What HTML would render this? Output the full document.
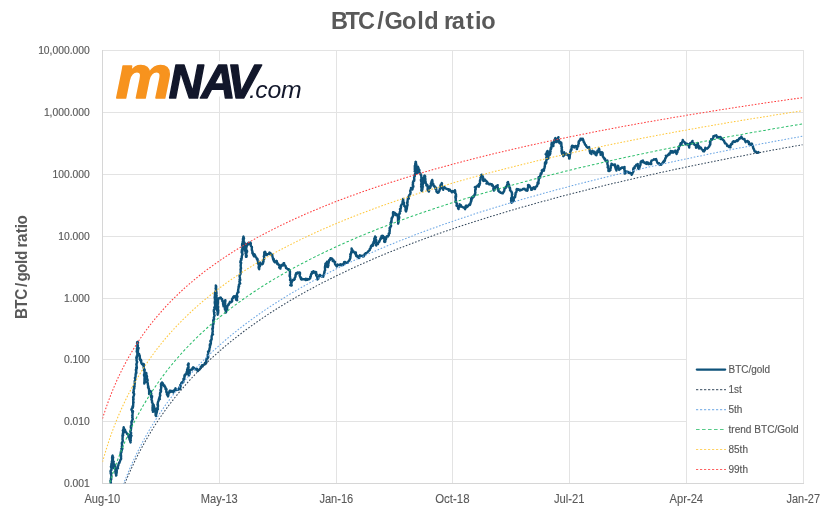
<!DOCTYPE html>
<html lang="en"><head><meta charset="utf-8"><title>BTC/Gold ratio</title>
<style>html,body{margin:0;padding:0;background:#fff}body{width:827px;height:517px;overflow:hidden}svg{display:block}text{font-family:"Liberation Sans",sans-serif}</style></head><body>
<svg width="827" height="517" viewBox="0 0 827 517">
<rect width="827" height="517" fill="#fff"/>
<g stroke="#E3E3E3" stroke-width="1" fill="none" shape-rendering="crispEdges">
<line x1="102" y1="50.5" x2="804" y2="50.5"/>
<line x1="102" y1="112.5" x2="804" y2="112.5"/>
<line x1="102" y1="174.5" x2="804" y2="174.5"/>
<line x1="102" y1="236.5" x2="804" y2="236.5"/>
<line x1="102" y1="298.5" x2="804" y2="298.5"/>
<line x1="102" y1="359.5" x2="804" y2="359.5"/>
<line x1="102" y1="421.5" x2="804" y2="421.5"/>
<line x1="219.5" y1="50" x2="219.5" y2="484"/>
<line x1="336.5" y1="50" x2="336.5" y2="484"/>
<line x1="452.5" y1="50" x2="452.5" y2="484"/>
<line x1="569.5" y1="50" x2="569.5" y2="484"/>
<line x1="686.5" y1="50" x2="686.5" y2="484"/>
<line x1="803.5" y1="50" x2="803.5" y2="484"/>
</g><g stroke="#D6D6D6" stroke-width="1" fill="none" shape-rendering="crispEdges">
<line x1="102.5" y1="50" x2="102.5" y2="484"/><line x1="102" y1="483.5" x2="804" y2="483.5"/>
</g>
<text transform="scale(0.9725,1)" x="340.45 355.28 368.1 387.86 395.38 413.48 428.99 436.25 446.25 456.63 464.65 479.11 488.32 494.96" y="28.7" font-size="24.2" font-weight="bold" fill="#595959">BTC/Gold ratio</text>
<text transform="translate(27.2,320) rotate(-90) scale(0.92,1)" x="0.99 12.27 22.14 35.94 41.81 51.09 60.74 65.12 75.12 78.71 84.74 94.21 99.76 103.7" y="0" font-size="16.5" font-weight="bold" fill="#595959">BTC/gold ratio</text>
<text x="89.7" y="54.0" font-size="10.3" fill="#595959" stroke="#595959" stroke-width="0.15" text-anchor="end">10,000.000</text>
<text x="89.7" y="116.0" font-size="10.3" fill="#595959" stroke="#595959" stroke-width="0.15" text-anchor="end">1,000.000</text>
<text x="89.7" y="178.0" font-size="10.3" fill="#595959" stroke="#595959" stroke-width="0.15" text-anchor="end">100.000</text>
<text x="89.7" y="240.0" font-size="10.3" fill="#595959" stroke="#595959" stroke-width="0.15" text-anchor="end">10.000</text>
<text x="89.7" y="302.0" font-size="10.3" fill="#595959" stroke="#595959" stroke-width="0.15" text-anchor="end">1.000</text>
<text x="89.7" y="363.0" font-size="10.3" fill="#595959" stroke="#595959" stroke-width="0.15" text-anchor="end">0.100</text>
<text x="89.7" y="425.0" font-size="10.3" fill="#595959" stroke="#595959" stroke-width="0.15" text-anchor="end">0.010</text>
<text x="89.7" y="487.0" font-size="10.3" fill="#595959" stroke="#595959" stroke-width="0.15" text-anchor="end">0.001</text>
<text x="84.4" y="503" font-size="12" fill="#595959" stroke="#595959" stroke-width="0.1" textLength="35.8" lengthAdjust="spacingAndGlyphs">Aug-10</text>
<text x="200.8" y="503" font-size="12" fill="#595959" stroke="#595959" stroke-width="0.1" textLength="37" lengthAdjust="spacingAndGlyphs">May-13</text>
<text x="319.4" y="503" font-size="12" fill="#595959" stroke="#595959" stroke-width="0.1" textLength="33.9" lengthAdjust="spacingAndGlyphs">Jan-16</text>
<text x="435.2" y="503" font-size="12" fill="#595959" stroke="#595959" stroke-width="0.1" textLength="34.3" lengthAdjust="spacingAndGlyphs">Oct-18</text>
<text x="554.0" y="503" font-size="12" fill="#595959" stroke="#595959" stroke-width="0.1" textLength="30.6" lengthAdjust="spacingAndGlyphs">Jul-21</text>
<text x="669.5" y="503" font-size="12" fill="#595959" stroke="#595959" stroke-width="0.1" textLength="33.6" lengthAdjust="spacingAndGlyphs">Apr-24</text>
<text x="786.5" y="503" font-size="12" fill="#595959" stroke="#595959" stroke-width="0.1" textLength="33.5" lengthAdjust="spacingAndGlyphs">Jan-27</text>
<rect x="114" y="61" width="188" height="35.5" fill="#fff"/>
<text font-style="italic" font-weight="bold" y="97.9" stroke-linejoin="round"><tspan font-size="61.5" fill="#F7931E" stroke="#F7931E" stroke-width="1.6" y="97.9" x="115.75" textLength="56.1" lengthAdjust="spacingAndGlyphs">m</tspan><tspan font-size="47.5" fill="#12172B" stroke="#12172B" stroke-width="1.4" y="97.6" x="168.65 201.35 226.68">NAV</tspan><tspan font-size="24.8" font-weight="normal" fill="#12172B" y="98.4" x="249.12 255.25 267.62 281.1">.com</tspan></text>
<defs><clipPath id="pc"><rect x="102.5" y="50.5" width="701.0" height="433.0"/></clipPath></defs>
<g clip-path="url(#pc)" fill="none">
<polyline stroke="#0E527A" stroke-width="2.4" stroke-linejoin="round" stroke-linecap="round" points="110.8,483.5 110.9,482.5 110.8,482.5 110.6,481.8 110.7,482.2 110.5,480.3 110.8,480.2 111.3,479.1 111.1,479.4 110.9,478.5 111.2,478.4 111.3,477.0 111.3,475.5 111.1,474.5 111.2,474.0 111.5,473.2 111.1,473.9 111.1,474.2 110.7,473.4 110.7,471.9 110.5,471.3 110.9,470.3 110.8,470.9 111.2,470.3 111.5,469.8 111.5,468.7 110.9,466.7 111.1,466.1 111.4,465.3 111.6,465.5 111.3,465.2 111.4,464.2 111.4,463.7 111.4,464.3 112.0,462.9 111.8,461.8 111.9,461.3 112.3,460.5 112.1,460.0 112.1,460.0 112.2,460.6 112.3,458.4 112.0,458.0 112.2,457.6 112.7,457.0 112.2,456.3 112.6,455.6 112.6,456.5 112.5,456.6 113.1,457.1 113.2,457.8 112.7,458.5 112.8,458.9 113.0,460.2 113.0,460.6 113.2,461.1 113.1,461.6 113.3,461.5 113.7,461.8 113.3,462.0 113.4,463.2 113.2,463.6 113.3,463.8 113.1,465.1 113.1,466.2 113.2,465.7 113.6,467.8 114.0,468.1 113.7,467.3 113.7,467.4 114.2,466.6 113.8,465.4 114.1,466.3 114.5,464.5 115.0,465.0 115.2,466.1 115.1,465.8 115.0,466.5 115.0,467.5 115.6,469.6 115.4,469.0 115.3,469.4 115.5,470.3 115.5,470.7 115.5,470.4 115.3,471.5 115.5,472.2 115.5,473.0 116.0,474.2 116.2,475.1 116.1,475.5 116.4,475.3 116.3,473.7 116.6,473.1 116.6,472.7 116.8,471.9 116.5,471.4 116.8,470.4 116.4,471.0 116.1,471.5 116.5,470.0 116.6,469.3 117.1,468.3 118.0,468.4 117.8,467.7 117.8,466.9 118.1,465.9 118.4,465.4 118.5,464.1 118.6,464.1 119.0,463.1 119.3,463.0 119.1,462.5 119.5,462.6 119.8,461.7 119.8,461.7 120.3,460.2 120.3,460.0 121.0,459.2 121.1,458.7 121.1,458.1 121.0,458.0 121.1,455.8 120.6,455.8 120.6,454.4 121.0,455.0 120.6,453.1 121.2,452.4 120.9,451.3 121.4,452.5 121.3,451.1 121.7,450.9 121.8,450.1 121.4,448.6 122.0,448.4 122.4,448.7 122.2,448.1 122.1,448.2 122.1,447.2 121.8,446.6 122.3,445.7 122.1,445.5 122.2,446.0 122.0,445.2 122.0,444.3 121.8,443.0 122.4,441.9 122.4,442.5 122.8,440.9 122.7,439.8 122.5,439.5 122.5,438.8 122.5,439.7 122.6,437.2 122.6,437.2 122.7,437.3 122.4,435.8 122.5,435.1 123.2,435.0 123.0,435.6 122.8,434.0 123.1,432.4 123.6,432.8 123.1,433.2 123.2,432.0 123.1,429.8 122.8,430.6 123.3,429.8 123.5,430.0 123.6,429.0 123.5,428.0 123.7,427.2 123.7,427.9 123.9,429.1 123.8,427.7 123.8,427.9 124.6,430.0 124.6,430.1 125.0,429.8 125.1,430.7 125.3,431.3 125.6,431.9 126.2,432.2 126.4,432.6 126.7,433.0 127.1,434.0 127.8,434.0 128.2,434.6 128.5,435.2 128.5,436.7 128.4,437.2 129.0,437.5 129.4,438.3 129.4,438.9 129.7,440.0 130.0,440.5 130.3,441.8 130.6,442.5 130.3,441.7 130.8,440.4 130.2,440.2 130.6,439.6 130.7,438.6 130.9,436.9 131.3,435.4 131.5,435.7 130.9,435.8 130.4,435.7 130.8,434.1 130.6,434.4 130.8,433.3 131.2,433.0 130.7,432.6 130.3,431.3 130.8,430.5 131.0,428.8 131.1,428.2 131.2,427.1 131.1,427.6 130.8,427.5 131.1,427.7 131.0,427.2 130.8,426.1 131.4,425.8 131.5,424.9 131.8,424.7 131.6,424.2 131.5,422.8 131.4,422.4 131.4,421.9 131.8,421.2 131.7,421.3 132.0,421.6 132.2,420.2 132.8,419.2 132.2,417.1 132.6,417.0 132.5,416.4 132.5,414.8 132.1,415.1 132.2,415.3 132.5,414.3 132.6,413.7 132.6,412.7 132.6,413.0 133.0,411.4 132.9,411.1 132.2,412.0 132.3,411.2 132.0,410.7 131.4,409.7 131.9,408.3 132.7,407.9 132.8,407.7 132.6,406.5 132.5,406.3 133.1,406.6 133.1,406.4 133.2,404.3 133.2,403.3 133.2,402.0 133.5,402.7 133.6,402.5 133.5,402.3 133.2,400.9 133.4,399.6 133.2,399.4 133.6,399.1 133.2,398.0 133.3,397.8 133.4,397.7 133.1,397.2 133.8,395.8 134.2,394.1 133.9,393.9 134.0,393.9 134.0,393.4 133.2,392.7 133.5,391.9 133.7,392.1 133.8,391.5 133.6,391.0 133.7,389.7 133.8,389.0 134.2,388.8 134.3,387.7 134.2,386.6 134.6,386.3 134.3,386.9 134.2,386.3 133.7,386.6 134.4,385.5 134.6,384.5 134.8,382.9 134.9,382.3 134.8,382.9 134.8,382.4 134.7,382.1 134.7,381.6 134.8,380.7 135.3,379.7 135.3,379.1 135.2,378.9 135.0,378.4 134.9,377.9 135.5,377.1 135.6,375.8 135.6,375.1 135.7,374.1 135.6,374.5 136.0,372.5 136.4,372.3 136.2,373.6 136.2,372.4 136.2,370.9 136.3,370.5 135.9,370.8 136.0,369.9 135.9,369.6 136.4,368.8 136.2,367.8 136.5,369.2 136.9,367.9 136.7,366.4 136.5,365.3 136.6,365.0 136.6,364.6 136.3,364.3 136.6,363.5 137.2,361.8 136.9,361.8 136.8,361.0 136.5,360.3 136.7,358.9 136.4,358.4 136.3,357.7 136.9,357.5 136.6,356.3 137.0,356.2 137.4,356.0 137.3,354.9 137.3,354.2 137.8,353.5 137.4,353.9 137.1,351.7 136.7,351.6 136.9,350.4 137.4,350.3 137.6,350.7 137.2,349.8 137.0,349.6 136.9,348.5 137.2,349.4 137.2,349.1 137.3,348.8 137.4,346.8 137.3,345.5 137.4,345.9 137.5,345.1 137.5,344.3 137.6,343.9 138.1,342.5 138.1,342.7 137.9,342.1 137.3,341.9 137.6,341.9 137.1,343.0 137.0,343.0 137.5,344.4 137.9,345.5 137.8,346.3 137.4,346.8 137.5,347.4 137.5,345.8 137.9,347.4 138.6,347.9 138.5,348.7 138.1,349.1 137.8,348.9 138.0,349.6 138.0,351.0 137.8,352.6 138.0,352.4 137.9,352.4 138.6,354.1 139.1,353.9 139.5,355.8 139.4,355.9 139.7,355.6 139.8,356.8 139.8,358.3 139.9,357.4 139.7,359.0 139.7,359.0 140.3,360.4 140.5,360.2 140.8,359.6 141.3,360.7 141.1,361.8 141.5,363.4 142.1,364.2 142.7,364.3 142.7,364.1 143.2,363.9 143.4,364.3 143.1,364.3 143.1,365.0 143.7,364.1 144.0,365.6 143.5,366.6 144.1,369.1 144.2,369.7 144.6,369.5 144.3,370.2 144.2,369.8 143.9,370.2 144.7,369.8 144.5,372.0 144.9,373.0 144.5,372.7 144.5,373.5 144.0,374.8 144.1,375.6 144.5,376.2 144.2,376.0 144.7,376.3 144.7,377.2 144.4,378.4 144.4,378.3 144.4,378.3 144.5,380.0 144.5,379.9 144.4,381.4 144.5,382.0 144.4,383.0 144.3,383.6 144.6,382.8 145.1,382.2 144.7,380.4 145.0,379.3 145.0,379.3 144.9,379.6 145.4,379.4 145.4,379.7 145.9,378.3 145.7,377.2 145.9,376.8 145.8,375.7 145.7,374.7 146.0,373.3 146.1,373.5 146.3,372.9 146.4,374.0 146.2,373.6 146.3,375.3 146.5,375.1 147.0,376.5 146.7,376.0 146.9,376.6 146.6,378.3 147.1,378.3 146.9,379.0 146.7,379.4 147.1,378.7 147.7,380.1 147.3,381.3 147.3,381.3 147.4,382.6 147.4,382.8 147.8,382.9 147.8,383.9 147.8,384.3 148.3,386.7 148.2,385.9 148.5,387.1 148.4,388.3 148.2,387.3 148.0,387.1 148.9,388.7 148.9,389.2 149.1,390.3 149.1,391.7 149.3,391.8 149.3,391.7 149.9,390.7 149.5,392.3 149.1,392.8 149.1,394.0 149.1,393.8 149.8,392.4 150.3,393.4 150.2,393.3 150.1,392.9 150.4,391.1 151.0,391.3 150.3,391.7 150.8,392.2 150.7,392.3 151.3,393.6 151.1,394.5 151.2,395.4 151.0,395.6 151.1,397.1 151.8,397.5 152.1,396.1 152.0,396.9 151.8,397.9 151.4,399.5 151.6,399.8 151.9,400.3 152.0,400.6 152.1,401.8 151.9,402.1 152.1,402.4 152.3,402.7 152.8,404.0 153.2,404.3 153.0,404.0 152.6,405.5 152.7,405.8 152.6,406.9 152.5,407.8 152.6,409.1 152.5,410.1 152.9,409.8 152.9,410.2 153.1,409.9 153.0,411.9 152.9,411.8 152.9,411.8 153.1,410.5 153.1,408.4 153.4,409.1 153.6,408.5 153.3,407.8 153.6,407.2 153.4,406.9 153.6,406.5 153.8,405.2 153.5,406.7 153.9,406.8 154.3,407.2 154.4,409.0 154.5,409.9 154.6,409.8 154.5,409.0 154.7,410.1 154.8,411.2 155.1,411.7 154.9,411.5 155.3,411.9 155.5,412.1 155.6,413.4 155.6,414.7 156.0,416.0 155.6,415.3 156.0,414.9 156.2,414.6 156.4,413.5 156.6,412.9 156.4,413.7 156.5,412.7 156.8,412.3 157.0,411.0 157.1,410.3 156.7,408.5 157.1,408.3 157.6,408.7 157.9,409.3 157.9,408.8 157.4,408.0 157.9,406.9 158.0,405.5 157.4,404.8 157.9,404.6 157.7,403.3 157.7,403.5 158.0,402.1 158.7,400.5 158.7,399.8 159.0,398.7 159.6,398.0 159.9,399.0 159.7,398.5 159.5,398.2 159.2,398.4 159.2,398.3 159.6,396.9 159.8,397.0 159.9,396.3 160.3,395.3 160.0,394.8 160.1,393.0 160.5,392.1 160.7,391.8 161.0,391.8 161.0,391.0 160.8,390.4 161.0,390.5 160.7,390.6 160.4,390.1 160.9,389.8 161.1,388.3 161.3,387.3 161.0,386.8 161.1,385.9 161.2,385.0 161.3,385.6 160.9,384.5 161.3,383.1 161.9,383.0 162.2,383.6 162.1,382.5 162.3,383.3 162.8,383.1 162.2,383.1 162.6,383.3 163.1,383.9 163.6,385.8 164.3,385.2 164.7,386.8 164.9,386.3 165.1,386.7 165.5,387.8 165.5,388.5 165.5,389.0 165.9,388.3 166.5,389.4 166.3,389.4 166.3,392.0 166.4,392.0 166.8,392.4 166.8,392.1 167.2,392.5 166.9,392.5 166.9,394.2 167.1,394.6 167.7,395.6 168.2,395.5 168.0,395.8 168.0,396.4 168.4,395.0 168.4,393.4 168.2,393.6 168.9,392.5 169.2,392.1 169.5,392.5 169.4,391.3 169.8,391.5 170.1,390.6 170.9,391.5 171.1,391.8 171.3,391.0 171.9,391.1 172.2,390.9 172.9,391.6 173.4,392.5 173.5,390.9 174.0,391.2 174.4,389.9 175.2,389.3 175.5,388.3 176.0,390.1 177.0,389.9 178.1,389.7 178.9,388.9 179.0,389.3 179.3,387.4 180.0,387.5 180.2,388.9 180.1,387.7 180.3,387.0 180.6,386.8 180.6,385.4 180.3,385.0 180.4,385.0 181.0,384.4 181.1,383.9 181.4,382.9 181.8,382.5 182.5,382.0 182.8,382.5 183.3,382.1 183.4,381.0 183.6,378.7 183.5,379.1 184.2,379.1 184.4,377.8 184.4,376.1 184.5,375.5 184.7,376.1 185.2,375.1 184.9,374.6 185.0,374.5 185.3,374.8 186.3,374.0 186.6,373.3 186.5,372.3 186.8,372.9 187.4,372.6 187.2,371.5 187.1,369.8 187.5,368.9 187.6,369.0 187.8,368.0 187.6,368.2 188.2,367.7 188.6,367.2 188.5,366.8 188.5,366.3 187.8,364.9 188.2,364.1 188.3,365.1 188.5,363.4 188.7,363.7 188.5,365.1 188.1,365.4 188.4,365.4 188.3,365.3 188.4,366.7 188.4,368.0 188.4,369.4 187.9,369.5 188.7,370.5 188.8,370.0 189.2,370.7 189.7,370.8 189.4,371.7 188.8,372.8 188.7,373.9 188.5,373.5 188.7,374.9 188.9,374.9 188.5,374.8 188.9,375.5 188.7,374.8 189.2,374.7 189.4,374.6 189.5,374.0 189.7,373.9 189.7,373.0 189.7,372.5 189.5,371.0 189.9,370.8 190.7,369.9 191.3,369.4 191.9,369.4 192.3,369.5 192.4,368.2 193.1,367.3 193.3,367.4 193.6,367.7 193.9,367.7 194.4,368.4 194.8,369.2 195.3,369.4 195.5,369.3 195.9,368.9 197.0,368.9 197.1,369.5 197.3,370.4 197.8,371.0 198.3,370.6 198.3,370.0 198.7,370.1 199.5,369.6 199.8,369.2 200.1,368.8 200.9,367.8 200.8,366.7 201.2,366.8 201.3,366.6 202.2,365.9 201.9,365.3 202.4,366.6 202.9,365.2 203.7,364.6 204.4,364.5 205.2,363.2 204.9,363.1 205.5,363.9 205.8,363.6 206.0,363.1 206.5,362.5 206.4,361.6 206.1,361.3 206.4,360.2 206.4,359.2 206.7,358.7 207.2,358.6 207.5,358.0 208.2,357.6 208.1,355.4 207.7,355.9 207.7,356.7 207.8,356.3 207.7,354.8 208.2,353.3 208.3,352.9 208.0,351.6 208.6,351.7 208.8,350.7 209.0,350.8 209.2,350.9 209.5,348.6 209.5,348.4 209.9,347.4 210.0,346.2 210.1,345.7 210.2,345.4 209.8,345.8 209.9,344.2 210.1,344.6 210.3,345.3 210.1,344.5 210.8,343.8 210.9,342.8 210.6,341.2 210.3,341.1 210.6,340.7 210.9,340.4 211.0,341.2 211.3,340.3 211.3,339.3 211.7,339.2 211.6,337.0 211.8,335.6 212.2,335.0 213.0,334.3 212.5,334.5 212.4,333.7 212.3,334.3 212.7,334.3 212.4,333.6 212.5,332.1 212.8,331.7 212.7,331.3 212.6,329.7 212.7,329.3 212.3,329.1 212.3,328.4 212.6,328.7 212.9,328.3 213.0,326.6 212.7,325.9 212.8,324.6 213.3,324.5 213.5,323.3 213.5,323.5 213.3,323.0 213.6,322.9 213.4,321.8 213.2,320.1 213.2,320.9 213.8,319.9 213.8,320.1 214.1,319.3 213.9,318.8 214.1,318.9 213.8,317.9 213.8,317.6 214.6,315.4 214.5,315.4 214.2,314.4 214.1,313.6 214.2,313.0 214.5,312.6 214.2,313.0 213.7,310.7 213.8,310.3 214.0,309.4 214.1,309.8 214.6,308.7 214.6,308.5 214.7,307.5 214.3,307.4 214.6,307.3 215.2,306.1 215.1,305.4 215.0,303.8 214.9,303.7 215.3,303.8 214.8,302.7 214.7,302.8 214.9,300.7 215.0,299.2 214.8,298.5 214.9,298.3 214.8,298.3 214.9,298.0 214.9,297.6 214.6,297.6 214.8,296.6 215.2,295.3 214.9,294.3 214.9,295.6 215.2,293.2 214.9,293.0 215.1,293.7 214.9,293.2 215.4,291.8 216.1,291.3 216.4,291.3 216.0,291.3 216.0,289.7 215.9,289.6 215.8,288.9 216.2,288.8 215.6,288.7 215.9,287.3 215.8,285.5 216.2,286.3 216.1,288.1 215.8,288.7 215.9,289.0 216.2,290.8 216.1,289.9 216.2,290.9 216.0,290.7 215.5,291.3 216.0,291.9 216.3,293.4 216.3,293.0 216.3,293.2 216.6,292.9 216.4,294.3 216.2,294.8 216.3,295.9 216.7,295.8 216.2,296.5 216.7,298.0 216.4,298.4 216.2,299.4 216.7,300.1 216.7,300.3 216.3,299.8 216.4,301.4 216.8,302.1 217.1,303.3 216.9,302.3 217.0,302.2 217.1,302.0 216.8,303.0 217.0,305.0 216.9,306.2 216.8,306.7 216.7,307.4 216.9,308.5 217.0,308.7 216.8,309.5 216.8,310.0 217.3,309.1 217.3,309.9 217.5,311.8 217.7,312.0 217.7,312.6 218.2,312.8 217.6,313.3 217.7,314.8 217.5,313.9 218.0,312.7 218.3,310.3 217.4,310.3 217.2,309.1 217.5,308.3 217.8,309.3 217.9,309.5 217.8,307.8 217.9,308.2 218.0,308.0 217.9,306.9 218.2,306.9 217.4,305.2 217.8,304.2 217.6,303.2 218.0,302.6 217.9,303.2 217.7,302.0 218.0,301.1 217.8,300.4 217.7,300.6 217.4,300.0 217.8,300.3 218.3,299.2 219.1,298.2 219.4,297.9 220.2,297.9 220.6,297.4 221.0,298.0 221.7,299.5 222.2,299.3 222.2,299.8 222.3,301.1 222.5,300.9 222.7,300.8 222.5,300.9 223.0,302.1 223.0,303.2 223.3,303.6 223.1,304.2 223.4,305.6 223.6,306.4 223.6,305.3 224.4,304.8 224.5,304.4 225.0,304.3 225.2,303.4 224.9,302.4 224.9,301.7 225.2,300.2 225.4,300.2 225.4,300.6 225.3,301.8 224.9,301.9 225.1,302.5 224.6,302.8 225.1,303.1 225.1,304.7 225.2,305.1 225.3,306.2 225.6,306.1 225.3,307.1 225.0,306.7 225.1,307.5 224.8,308.3 225.0,309.6 225.9,310.4 225.7,310.9 226.0,312.1 225.7,312.6 226.0,312.2 226.1,311.9 226.3,310.9 226.6,310.0 227.1,309.6 227.1,308.6 227.1,308.3 226.8,308.3 227.1,308.0 227.3,306.8 227.9,305.3 228.1,305.0 228.8,304.6 228.3,304.9 228.7,303.9 229.3,303.3 229.5,303.3 229.7,302.3 230.0,301.7 230.1,302.4 230.6,302.4 231.8,301.7 232.2,300.9 232.0,299.3 232.0,299.2 232.3,298.6 233.0,298.2 233.1,297.2 233.3,296.8 234.0,296.2 234.7,296.4 235.1,297.3 235.4,297.1 235.2,296.3 235.4,296.5 235.1,296.5 235.8,297.2 235.8,298.7 236.2,299.8 236.9,300.0 237.2,300.2 236.7,299.1 237.0,297.8 237.4,296.8 237.1,296.4 236.9,297.3 237.0,295.8 236.7,296.4 237.5,296.5 236.9,295.4 236.9,294.6 237.2,293.5 237.4,293.0 237.7,292.9 238.0,292.2 238.1,292.1 238.5,292.0 237.9,291.1 238.2,290.4 238.2,289.4 238.4,288.9 238.6,287.4 238.5,287.2 238.5,286.8 238.9,285.6 239.1,286.5 238.9,284.9 239.6,283.7 240.2,283.5 239.4,281.7 239.5,281.2 240.3,280.1 240.2,279.6 240.1,279.6 239.9,279.6 239.7,279.9 239.7,279.7 239.6,279.5 240.0,278.8 239.9,277.5 239.8,277.4 239.6,276.1 239.8,275.1 239.7,275.5 239.9,275.1 240.4,274.3 240.5,273.8 240.6,273.4 240.7,271.5 240.7,270.9 240.6,269.7 240.6,269.5 240.8,268.6 240.5,269.2 241.0,268.7 240.9,267.4 240.7,266.8 240.7,265.5 240.6,265.3 240.8,265.2 240.7,264.7 241.2,262.8 240.9,262.5 240.4,262.5 240.5,262.2 240.3,262.3 240.7,260.6 241.2,260.5 241.5,259.4 241.1,259.1 241.0,258.8 241.7,258.5 241.8,257.3 241.7,256.9 242.0,255.5 242.6,254.2 242.6,254.5 242.3,254.1 242.2,252.5 242.3,251.9 242.0,251.8 241.7,252.5 241.9,252.4 241.7,251.9 241.9,249.7 242.1,249.2 242.8,249.1 242.4,248.7 242.4,248.2 242.4,247.3 242.6,247.8 242.9,247.7 242.6,246.3 242.4,244.7 242.1,245.5 242.1,244.0 242.6,244.0 242.8,244.2 242.6,242.3 242.8,241.7 243.0,240.7 243.3,240.4 243.2,239.9 243.3,240.4 242.9,239.6 243.0,238.4 243.8,238.3 243.3,237.0 243.5,236.6 243.7,238.6 243.7,238.1 243.6,238.2 243.8,238.9 243.9,238.8 244.0,238.3 243.5,240.3 243.7,240.6 243.7,241.1 243.8,241.8 244.0,242.1 244.3,242.4 244.6,243.6 244.3,246.0 244.6,246.7 244.9,247.3 245.0,246.4 245.2,247.1 244.9,247.0 244.7,248.5 244.9,248.9 244.4,249.6 244.5,250.2 244.4,250.5 244.4,249.3 244.1,249.5 244.1,248.2 244.4,247.3 244.9,247.1 245.2,246.5 245.2,246.5 245.1,246.7 244.9,246.1 245.2,245.5 245.2,244.8 245.4,244.7 245.9,243.9 245.7,245.0 245.2,245.1 245.0,245.2 244.8,246.3 244.7,247.0 245.4,248.2 245.5,249.5 245.1,248.4 245.5,249.4 245.9,251.5 245.7,252.3 245.5,253.4 245.5,253.5 245.7,252.7 245.9,252.7 246.2,254.2 246.4,255.4 246.5,255.3 246.7,255.8 246.5,256.7 245.9,255.9 245.9,255.5 246.1,256.3 246.0,256.9 246.4,255.5 246.2,255.7 246.0,254.1 246.6,252.7 246.7,250.7 246.7,251.3 246.9,250.6 247.1,251.7 247.0,250.8 246.2,249.9 246.3,247.9 246.4,248.5 246.3,247.5 246.6,246.8 247.1,244.8 247.0,245.4 247.0,245.5 247.9,244.4 247.8,244.0 247.7,243.7 248.1,243.6 248.5,242.8 248.7,244.1 249.5,243.8 249.8,243.5 250.0,243.5 250.4,242.5 250.8,243.3 250.7,245.2 251.0,246.1 251.0,246.1 251.9,247.2 251.5,246.5 251.9,247.4 251.8,248.8 251.8,249.9 252.0,249.9 252.3,251.2 252.6,252.8 252.6,252.6 252.4,253.4 252.3,252.6 252.6,252.2 252.9,253.8 253.3,254.6 253.4,255.4 253.6,255.7 254.2,255.5 254.3,255.7 254.1,256.3 254.3,255.2 254.4,254.2 255.3,255.8 255.3,256.6 256.1,257.3 256.4,257.6 257.0,259.4 257.3,259.3 257.2,259.7 257.3,258.7 257.4,259.1 257.6,259.5 257.7,260.4 257.9,261.4 258.6,261.5 258.1,263.4 258.3,263.0 258.2,263.4 258.4,264.3 258.8,264.1 258.8,265.4 259.1,266.5 258.6,266.8 259.1,268.6 258.9,268.7 259.2,269.2 259.3,268.9 258.6,267.7 258.7,267.2 259.1,266.8 259.8,266.3 259.9,266.5 259.9,264.4 259.5,263.7 260.1,262.6 260.7,263.7 260.9,263.7 261.2,263.9 261.3,263.7 262.0,264.4 262.9,263.7 263.0,263.4 263.2,261.5 263.3,262.2 262.9,261.9 263.5,261.6 263.1,261.6 263.3,260.5 263.6,259.6 264.0,259.4 264.1,258.9 264.2,257.9 264.1,257.2 263.8,256.3 264.2,256.2 264.2,256.1 264.1,255.2 264.1,255.6 264.4,253.5 264.2,252.8 264.3,253.4 264.3,252.3 265.1,251.7 265.7,253.5 266.6,254.2 266.2,253.8 266.4,255.0 267.0,254.8 267.4,254.1 267.8,254.1 268.9,253.9 269.1,253.2 269.3,253.2 269.5,252.6 270.3,253.0 270.8,253.8 270.8,254.9 271.0,255.0 271.7,254.8 272.3,254.8 272.3,255.7 272.8,257.7 273.2,258.6 272.9,258.4 273.2,259.5 273.8,259.0 273.9,260.4 273.6,260.5 274.1,261.5 274.8,262.3 275.5,262.4 275.1,262.4 276.3,261.1 276.2,260.8 276.8,261.1 277.3,264.1 277.6,263.9 277.6,263.7 277.4,263.0 277.8,264.2 277.8,263.4 277.3,263.6 278.7,264.8 279.0,264.7 279.6,266.6 279.2,267.7 279.8,267.5 280.3,267.6 280.6,267.4 280.5,267.5 280.2,268.5 280.4,268.6 280.1,268.3 280.1,267.8 280.7,266.8 280.9,266.6 281.4,265.0 281.8,264.9 282.7,265.5 283.1,265.5 283.2,264.2 283.6,263.3 283.4,263.6 283.6,264.2 284.1,263.1 283.9,263.3 284.2,264.1 284.2,265.4 284.7,265.1 285.6,266.1 285.6,266.2 286.1,268.1 286.3,268.2 286.5,268.1 286.6,268.1 287.7,269.2 288.6,269.8 288.8,269.2 288.8,269.9 289.2,269.6 289.1,270.0 289.5,270.2 289.6,270.4 289.8,271.3 290.0,271.8 289.9,273.3 290.0,274.6 289.6,275.0 289.7,274.9 289.6,276.3 289.8,275.6 289.8,275.4 290.1,277.3 290.4,278.6 290.0,279.9 290.0,280.1 290.0,279.8 290.5,280.3 291.0,281.6 291.2,281.7 290.9,282.1 291.3,282.1 290.7,282.5 291.2,284.2 290.9,285.3 290.2,285.1 291.3,285.3 291.7,285.4 291.3,285.6 291.4,284.3 291.4,284.0 291.5,282.3 291.2,281.6 291.3,282.1 291.7,282.4 292.0,281.0 292.4,280.2 292.5,280.6 293.6,280.0 293.6,279.5 294.1,279.8 293.8,279.5 293.9,279.6 294.7,279.2 294.7,277.9 295.2,277.2 295.5,276.6 295.5,275.2 295.7,274.4 295.9,274.9 296.1,273.3 296.7,273.9 297.1,273.5 297.1,272.8 297.1,272.6 297.7,272.5 298.3,273.0 299.2,272.4 300.0,272.7 300.0,273.1 299.9,274.9 299.8,275.7 299.6,275.1 299.6,275.4 299.6,275.6 299.9,276.3 300.3,277.1 301.0,279.1 301.2,277.8 301.5,279.1 301.6,279.6 302.8,279.1 303.5,279.2 304.4,279.1 305.0,279.5 305.7,280.1 305.9,278.7 306.5,279.7 307.7,279.1 307.5,279.8 308.2,279.3 308.9,279.4 309.2,278.9 309.7,278.8 310.3,278.0 310.2,276.6 310.6,276.5 310.6,276.3 310.7,276.9 311.0,274.4 311.3,273.8 311.7,274.0 312.1,272.5 311.9,272.0 312.8,272.9 313.2,272.9 313.4,271.1 313.3,271.3 313.7,271.9 314.4,272.0 314.9,272.0 314.7,272.2 315.2,271.9 316.2,272.2 315.5,273.4 316.0,273.9 316.2,275.6 316.2,275.4 316.8,274.2 316.4,275.0 316.7,276.2 317.3,277.1 317.3,277.7 317.3,277.7 317.5,279.5 317.6,278.5 318.4,278.5 318.3,277.6 318.9,276.3 318.8,277.0 319.5,274.9 320.1,274.9 319.9,275.7 320.8,275.7 321.3,276.4 321.9,276.0 323.1,275.5 323.3,276.7 323.3,275.6 324.0,274.7 324.1,273.3 324.6,272.4 324.6,272.6 324.3,272.4 324.4,271.7 324.9,270.5 325.1,270.5 325.0,268.7 325.0,268.3 325.0,267.9 324.9,267.0 325.6,266.9 325.5,266.0 325.2,265.2 325.2,266.1 325.6,265.8 325.8,265.6 325.8,264.6 325.7,264.3 325.8,263.8 325.5,263.5 325.4,263.8 326.0,263.2 326.1,263.5 326.5,263.6 327.0,261.7 327.2,262.2 327.1,263.6 327.8,265.1 327.8,265.5 327.6,266.9 327.9,267.1 328.1,265.8 327.9,266.0 328.2,266.1 328.4,265.2 328.0,263.4 328.4,263.7 328.7,262.6 328.9,261.6 328.7,261.1 329.1,260.1 329.5,260.3 329.8,260.1 329.7,259.9 330.3,259.2 330.4,258.2 331.0,258.3 332.1,259.0 332.4,258.8 332.7,261.0 333.4,260.6 333.6,260.2 333.9,261.4 334.4,261.9 335.1,262.0 334.6,262.1 334.8,262.9 335.0,263.8 335.2,264.5 335.5,264.5 335.8,265.1 336.5,265.9 336.8,266.5 337.4,264.5 338.0,264.9 338.2,265.1 338.7,264.9 339.5,264.9 339.8,265.2 339.8,265.0 340.1,264.3 340.5,264.2 341.3,265.2 342.1,264.3 342.4,264.4 342.9,264.9 343.8,264.3 344.0,262.3 344.6,262.5 344.8,262.0 345.2,261.9 345.8,262.7 347.2,262.8 347.5,262.4 347.8,262.7 347.9,262.2 348.3,261.5 348.8,260.9 349.1,260.4 349.9,259.4 350.0,258.6 350.4,258.1 350.4,257.0 350.6,255.9 350.2,256.7 350.4,255.9 350.6,255.4 350.7,254.7 350.3,254.2 351.0,253.7 351.1,253.1 351.2,252.0 351.3,252.2 351.5,251.1 351.8,251.3 351.6,249.3 351.6,248.4 352.0,249.3 352.3,249.8 352.4,250.0 352.5,251.0 352.5,251.0 352.8,251.9 353.4,251.2 353.2,252.1 354.2,252.1 354.9,252.8 355.2,253.3 355.9,252.4 355.6,254.0 355.4,253.9 355.4,253.1 355.8,252.6 356.0,255.1 356.2,255.8 356.6,256.0 356.4,256.2 357.4,255.8 357.7,257.1 358.4,257.0 359.1,258.1 359.5,257.3 359.9,255.3 360.5,256.2 361.3,255.8 362.2,255.6 363.0,256.6 363.3,255.9 363.7,256.3 364.1,255.6 364.7,254.4 364.5,254.3 365.5,253.3 365.7,253.7 365.9,253.6 366.5,252.8 367.3,252.5 367.7,252.1 368.3,251.2 368.6,251.2 369.2,250.3 369.7,250.1 369.8,248.8 370.4,248.5 370.6,248.3 370.8,247.2 370.8,246.7 371.1,246.0 371.7,246.3 371.7,245.3 372.3,245.3 372.8,245.7 373.2,245.1 372.9,243.3 373.4,243.1 373.9,243.3 373.9,242.3 374.1,242.4 373.6,241.9 374.2,241.2 374.2,240.1 374.7,239.1 374.3,238.4 374.8,238.0 374.9,237.7 375.3,237.3 375.1,236.4 375.1,236.6 375.9,237.4 375.5,236.9 375.3,237.3 375.4,237.8 375.2,238.7 375.8,239.5 376.3,240.2 375.9,240.4 375.4,241.8 376.0,242.6 376.3,242.1 376.5,243.1 376.7,243.2 376.2,245.3 376.2,245.5 376.0,245.1 376.0,244.7 376.8,244.1 376.9,243.6 377.9,244.1 378.0,243.4 377.9,243.1 378.4,242.9 379.1,241.2 379.3,241.8 379.1,241.2 379.6,240.9 380.3,239.3 380.3,239.3 380.3,238.8 381.0,237.6 381.3,238.6 381.2,237.8 381.4,236.6 381.6,236.0 382.2,235.9 382.5,235.7 383.1,236.1 383.4,237.0 383.0,237.9 383.5,236.9 383.9,237.0 384.2,237.1 384.6,238.0 384.4,239.6 384.3,240.3 384.8,239.9 384.6,240.3 384.2,241.7 385.0,241.7 385.0,242.0 385.3,241.7 385.1,239.9 385.2,240.3 385.3,240.0 385.7,239.7 386.2,238.4 385.8,237.4 386.6,236.8 386.5,236.7 386.7,236.4 387.5,236.0 387.9,236.6 387.8,236.5 388.9,235.0 388.7,233.8 388.9,234.3 389.1,233.1 389.6,233.3 389.4,233.3 389.7,231.6 389.5,230.6 389.9,230.0 389.6,228.8 389.7,227.7 390.4,227.2 390.4,227.5 390.4,226.6 391.1,226.0 391.0,225.2 390.7,223.9 390.9,224.8 390.6,222.6 391.2,222.1 391.5,222.4 391.3,221.0 391.2,221.3 391.5,221.6 391.6,220.2 391.5,219.9 391.9,218.6 391.5,218.6 391.7,218.1 392.0,217.6 392.2,217.9 392.5,217.2 392.4,217.2 392.9,216.4 393.1,214.6 393.1,214.2 393.0,213.9 393.0,212.2 393.6,212.8 393.6,212.2 394.1,212.9 394.7,212.7 395.2,213.4 395.8,214.2 395.7,214.4 395.5,215.1 396.4,214.0 397.0,215.5 397.4,215.3 397.4,214.8 397.7,215.5 397.8,216.2 397.9,217.8 398.0,218.0 398.0,219.1 398.0,219.3 398.0,221.6 398.3,222.2 398.1,223.6 398.7,221.6 398.5,221.3 398.8,219.8 398.7,219.7 398.7,219.4 399.3,217.6 399.1,216.5 398.7,215.6 398.7,214.6 398.9,214.3 399.7,213.7 399.7,212.8 399.9,213.1 399.6,213.2 399.8,211.9 400.0,211.4 400.6,211.2 400.2,210.7 400.4,209.8 400.5,210.0 400.2,210.0 400.4,209.6 400.5,208.5 400.0,209.1 400.6,209.0 401.0,207.4 401.0,206.4 400.8,206.3 401.5,204.8 401.7,204.4 402.2,203.8 402.7,202.7 402.5,202.1 402.9,200.7 402.9,200.3 403.1,198.9 403.3,200.6 403.4,201.9 403.9,202.8 403.9,203.0 404.0,203.8 404.0,204.6 404.2,205.2 404.1,205.8 404.2,205.1 404.4,205.9 404.4,205.9 404.6,205.8 404.6,206.0 405.4,207.3 405.7,208.7 405.6,208.3 405.5,210.3 406.1,211.5 406.0,211.3 405.9,211.4 405.9,211.3 406.0,211.4 406.4,210.3 406.3,208.9 406.9,208.8 406.5,207.0 406.7,207.0 406.4,207.5 407.1,207.0 406.9,206.8 406.9,206.2 407.3,205.8 407.6,204.9 407.2,203.5 407.2,202.9 407.0,202.3 407.3,202.6 407.5,202.8 407.6,201.9 407.6,200.4 407.8,199.2 407.8,198.7 408.2,199.1 408.8,198.4 408.3,197.6 408.6,196.4 408.8,196.5 409.3,196.0 409.3,195.2 409.6,194.7 409.6,195.1 410.1,193.9 410.2,194.2 410.3,193.8 410.5,192.6 410.6,192.2 410.2,191.0 410.7,189.6 411.0,188.9 411.0,187.9 411.4,187.9 412.1,188.1 412.1,188.8 412.4,189.4 413.0,186.5 413.4,186.7 413.1,185.3 412.8,185.4 412.8,184.6 412.9,184.5 412.7,185.0 413.1,183.1 412.9,183.0 412.9,182.5 413.6,180.8 413.5,181.1 413.7,180.7 414.0,179.9 414.3,179.0 414.2,180.8 414.3,179.3 414.1,177.2 414.7,176.3 414.9,175.9 414.5,175.4 414.6,175.1 414.9,174.0 415.0,174.2 415.4,173.3 415.6,172.1 415.2,171.4 415.1,171.0 414.7,171.4 414.9,171.1 415.0,170.2 415.8,169.6 415.6,169.1 414.8,169.8 414.8,168.2 415.0,167.8 414.8,167.4 414.8,165.9 414.9,165.5 415.2,165.0 415.3,164.0 415.2,163.9 415.7,163.8 415.6,163.7 415.7,162.5 415.5,161.8 415.6,162.9 416.0,162.1 415.7,162.7 415.9,163.7 416.3,164.1 416.3,164.9 416.4,165.3 416.2,166.1 416.7,167.2 417.0,167.1 417.0,167.6 416.4,168.0 416.3,168.2 416.8,168.8 417.3,168.7 417.3,170.1 417.5,171.8 417.2,173.0 417.2,172.6 417.3,170.7 417.5,170.9 417.2,169.3 417.7,168.6 418.2,169.1 417.9,167.3 417.6,167.2 418.0,166.7 418.0,166.9 417.6,166.9 418.3,167.9 418.6,168.2 418.6,169.6 419.4,170.7 419.4,170.0 419.1,170.4 419.3,170.9 419.1,171.0 419.1,171.3 419.5,172.4 419.6,173.2 419.7,172.9 420.5,173.7 420.8,175.1 421.0,175.0 421.2,175.4 421.3,177.5 421.7,178.8 421.5,177.9 421.9,177.8 421.4,179.1 421.2,179.1 420.9,180.0 421.0,180.6 421.3,181.9 421.8,180.9 421.5,180.7 421.5,181.5 421.4,183.7 421.3,184.4 421.1,184.1 421.4,185.6 421.1,186.9 421.4,187.3 421.6,187.7 421.5,188.7 421.4,190.0 421.3,190.3 422.1,191.0 421.7,190.5 422.4,189.5 422.5,188.3 422.3,188.1 422.0,187.4 422.5,186.7 423.0,186.9 422.6,186.4 422.5,186.2 422.9,184.2 422.9,184.2 423.5,183.2 423.1,182.2 423.2,181.3 422.8,181.9 423.5,181.8 423.1,180.4 422.6,179.2 423.0,178.9 423.3,178.2 424.2,179.0 424.2,177.2 424.3,175.7 424.7,175.5 425.2,176.4 425.0,177.3 425.3,178.5 425.4,180.3 425.2,180.0 425.3,180.0 425.4,179.4 425.2,180.6 425.7,182.0 425.4,182.3 426.0,183.6 426.4,183.9 426.4,185.3 426.3,185.5 426.4,185.0 426.8,185.2 427.2,185.0 427.4,185.0 427.8,186.5 427.6,188.0 427.8,189.8 427.5,189.8 428.1,190.0 428.3,189.7 428.4,191.1 428.9,191.6 429.1,190.5 428.4,190.4 428.7,190.0 428.6,188.0 429.3,188.2 430.2,187.8 429.9,186.9 430.0,186.1 430.0,186.8 430.3,186.9 430.6,186.9 431.0,184.7 430.8,183.6 431.5,183.7 431.3,182.1 431.6,181.3 432.2,179.9 432.5,181.2 432.2,182.2 432.2,182.7 432.4,183.1 432.6,183.2 433.2,183.5 433.0,184.5 433.4,184.5 433.7,186.0 434.1,185.9 434.4,185.9 435.0,187.5 435.1,187.7 435.4,188.5 435.6,188.6 436.2,187.7 435.6,189.2 436.3,189.0 436.4,190.7 436.5,190.3 436.5,190.0 436.4,191.4 437.1,192.3 437.7,192.7 438.5,192.2 438.4,192.6 439.3,191.1 439.5,190.6 439.6,189.8 439.7,189.5 439.7,189.8 439.8,188.8 440.0,188.8 440.4,188.6 440.6,186.7 440.4,185.7 440.7,185.3 440.7,184.7 441.1,184.7 441.8,183.1 442.0,183.5 441.9,183.9 441.5,184.2 441.4,183.9 441.3,184.9 442.0,185.3 442.0,186.5 442.3,187.1 442.4,188.1 442.6,188.3 443.2,189.8 443.1,188.5 443.3,188.1 443.6,188.4 444.4,187.2 444.5,187.7 444.7,187.3 444.9,188.1 445.2,188.2 446.1,188.6 447.5,189.2 447.6,189.3 448.5,189.2 449.0,190.7 449.2,190.3 449.8,189.6 450.3,190.5 450.8,191.1 452.0,191.7 451.9,192.4 452.8,191.0 453.5,191.5 453.9,191.8 454.6,191.3 455.0,191.7 455.0,190.1 455.1,190.9 455.3,193.2 454.7,192.5 455.3,193.1 456.0,194.3 456.0,195.4 456.1,196.9 455.5,196.0 455.5,196.8 455.4,198.0 455.4,197.6 455.8,198.4 455.7,200.4 455.8,201.4 455.4,201.8 455.8,200.2 456.1,201.1 456.1,202.2 456.1,202.6 456.9,203.3 456.6,205.9 456.5,205.6 456.5,205.2 457.3,205.9 458.1,206.2 458.1,206.7 458.0,207.3 458.1,208.4 458.6,209.0 458.4,207.7 459.0,207.2 459.4,207.1 459.3,206.2 459.5,206.5 459.6,206.2 460.0,204.6 459.6,204.3 460.0,204.9 460.1,205.8 460.1,205.5 460.5,206.1 460.8,205.7 460.9,205.2 461.1,206.2 461.6,206.7 462.8,207.2 463.8,207.4 464.2,207.9 464.8,207.9 464.8,208.7 465.1,209.2 465.4,208.4 465.4,208.2 465.6,206.3 466.1,205.6 466.5,206.4 466.8,207.2 467.6,206.5 468.1,205.8 469.1,204.6 469.5,204.8 469.9,205.0 470.5,203.6 470.5,203.6 470.5,203.4 470.5,203.0 471.0,201.5 471.2,201.4 471.6,199.8 471.1,200.6 471.1,199.9 471.2,198.4 471.5,198.9 471.5,198.9 471.7,197.5 472.4,198.4 472.9,196.7 472.9,196.4 473.9,196.6 474.6,194.4 474.7,195.1 475.2,194.5 475.0,193.9 475.4,192.6 475.3,192.5 475.2,191.3 475.2,190.4 475.2,190.0 475.4,189.0 475.6,189.9 475.8,188.4 475.7,187.6 474.8,187.2 475.4,186.9 475.3,187.1 476.2,187.1 477.1,186.2 477.6,185.4 477.9,185.2 478.4,186.1 478.8,186.7 479.0,185.8 479.0,183.9 478.9,185.2 479.6,184.9 479.6,184.1 480.0,183.4 479.9,182.2 480.0,181.0 480.0,180.4 480.3,179.9 480.6,179.1 480.7,177.9 480.5,177.7 480.5,177.9 481.2,177.0 481.2,176.7 481.2,174.9 481.8,174.8 482.1,175.5 482.3,175.5 482.2,175.5 483.0,177.0 483.1,177.4 483.2,178.7 483.2,179.1 482.9,180.2 482.9,180.5 483.5,180.1 483.9,181.0 484.2,180.8 484.2,180.9 484.3,180.1 484.8,179.5 484.9,179.7 485.7,180.5 486.3,181.2 487.2,182.0 487.3,182.3 487.1,182.9 486.9,183.6 486.4,183.6 487.2,183.2 488.1,183.1 489.2,184.4 489.8,184.1 490.3,184.0 490.7,184.0 491.2,184.4 491.8,185.0 491.6,184.7 491.8,184.2 491.8,185.5 492.8,185.3 493.3,186.6 493.6,187.5 493.3,188.9 493.7,190.3 493.9,190.6 494.2,190.3 494.4,189.8 494.8,189.0 494.8,188.8 495.3,187.1 495.5,187.3 495.6,187.1 495.8,187.2 495.9,186.4 496.5,186.1 496.9,185.6 497.6,185.5 497.7,185.1 497.4,186.4 498.0,188.3 497.9,188.7 498.4,189.4 498.6,189.2 498.3,190.8 498.4,190.5 498.9,191.5 499.3,191.8 499.6,191.5 500.5,192.7 501.0,192.7 501.8,193.0 502.2,193.4 502.9,193.3 503.0,192.4 503.4,192.3 503.9,191.4 504.2,191.0 504.4,190.1 504.4,188.8 504.9,188.3 505.3,187.9 505.5,187.8 505.6,188.2 506.1,186.5 507.2,186.4 507.1,184.7 507.5,184.2 507.8,184.0 507.4,182.7 508.0,181.9 508.2,183.5 509.0,184.6 509.1,185.4 509.2,185.7 509.5,187.9 509.9,188.0 510.0,187.8 510.2,189.6 510.0,190.2 510.3,190.2 510.8,191.4 511.5,191.7 511.7,192.4 511.7,192.8 511.9,192.5 512.0,193.8 512.3,194.3 512.3,194.1 512.0,194.4 511.9,195.9 511.9,196.2 511.9,196.9 511.9,197.9 511.6,198.5 511.1,198.0 511.3,199.3 511.0,200.5 511.4,201.4 511.7,202.7 511.4,202.5 512.0,201.9 512.6,201.9 512.7,200.4 513.3,200.6 513.8,200.5 513.3,199.6 513.7,199.5 513.9,198.6 514.4,197.0 515.0,197.2 515.2,196.7 515.2,196.1 515.2,195.3 515.3,195.4 515.6,194.7 515.5,193.3 515.6,192.9 516.2,192.6 516.5,191.3 516.8,190.5 516.5,189.8 516.8,189.0 517.1,189.0 517.6,189.2 517.9,189.7 518.6,189.3 519.0,189.5 519.4,189.9 519.9,190.5 520.5,189.8 520.9,190.0 521.8,189.8 522.4,189.4 523.0,188.9 523.4,188.8 524.0,189.1 524.7,188.8 525.3,189.8 525.7,190.3 526.3,190.6 526.7,190.6 527.4,190.7 527.7,189.8 527.2,189.2 528.0,187.6 528.2,186.1 528.0,185.1 528.3,186.5 528.3,185.0 529.3,185.3 529.6,186.2 529.6,185.9 530.3,187.2 530.8,188.2 531.7,188.6 531.5,189.9 531.2,189.8 531.8,189.1 532.2,189.6 532.7,189.0 532.8,187.9 533.8,187.2 535.0,189.0 534.9,188.1 535.7,187.6 535.8,186.6 536.9,186.4 537.1,185.8 537.2,185.2 537.6,184.0 537.8,182.9 537.6,182.5 538.0,182.7 537.9,183.7 537.6,183.4 538.6,183.5 538.5,182.5 538.5,181.3 538.9,179.5 538.6,179.1 538.6,177.2 538.9,177.1 539.2,178.0 539.6,177.5 540.2,177.5 540.2,176.3 540.5,174.7 540.8,174.1 540.7,173.5 541.0,174.0 541.0,174.6 541.6,173.0 541.9,172.0 542.1,171.4 541.8,170.6 542.5,169.8 542.9,170.2 543.9,170.7 544.0,170.4 543.9,169.0 544.4,168.6 544.6,167.0 544.5,167.6 544.9,166.5 544.9,166.0 544.8,165.4 545.0,164.7 544.9,163.8 545.0,162.5 545.2,163.8 545.8,163.3 546.2,162.8 546.0,163.5 546.4,162.2 546.2,161.7 546.2,160.7 546.4,160.7 546.4,160.0 547.0,159.2 546.8,158.1 546.3,157.6 546.7,157.6 546.5,155.3 546.4,154.9 545.7,154.2 546.4,153.7 546.8,152.1 547.0,152.6 547.2,151.6 547.6,151.2 547.4,151.1 547.6,150.9 547.3,151.8 547.3,151.7 547.8,152.4 547.9,153.5 547.6,154.6 547.9,155.5 548.0,156.2 547.9,158.3 548.3,158.6 548.5,156.9 548.4,156.1 548.5,155.3 549.6,155.0 549.4,154.3 549.7,153.4 550.0,154.3 550.3,153.5 549.9,152.6 550.0,151.8 550.2,151.2 550.6,151.6 550.5,151.0 550.3,150.8 550.8,147.8 551.2,147.9 551.3,148.2 551.1,148.8 551.4,147.6 551.5,145.6 551.8,145.6 551.4,144.6 551.7,143.0 551.8,142.6 551.7,143.2 552.1,143.8 552.5,144.4 552.8,143.9 553.4,146.0 553.2,144.5 553.5,143.8 553.8,142.2 554.0,142.9 554.5,142.4 554.1,142.2 553.9,141.4 554.3,140.5 554.6,139.9 555.4,138.0 555.5,138.7 555.3,139.8 555.7,139.9 555.6,140.3 555.5,141.1 556.7,142.1 556.9,141.4 557.2,140.5 557.4,139.4 558.1,137.9 558.1,137.3 558.5,137.2 558.1,137.7 557.9,138.5 558.5,139.7 559.0,140.4 559.1,140.9 559.2,141.8 559.2,142.2 559.1,142.5 559.7,143.3 560.3,142.1 560.8,143.2 561.2,142.5 561.4,143.8 561.4,144.4 561.5,145.6 561.1,146.0 561.3,145.8 562.0,147.2 561.6,147.7 561.6,148.2 561.8,148.7 562.0,149.8 562.1,150.6 561.5,151.0 561.8,150.3 561.6,150.8 561.6,151.7 562.1,153.6 562.2,154.0 562.6,154.2 563.6,155.4 563.6,155.5 563.7,155.8 563.3,156.2 563.3,154.6 563.2,154.9 563.4,154.6 563.5,153.7 563.7,152.4 564.1,152.3 564.2,153.7 564.2,153.5 564.4,153.4 565.1,154.5 565.5,154.1 566.1,153.6 566.7,154.5 567.1,154.6 567.8,155.0 567.8,155.1 568.9,156.2 569.3,156.8 569.3,157.0 569.1,157.5 569.5,158.5 569.1,158.5 569.2,158.3 569.7,157.7 569.9,154.6 569.8,154.0 570.3,153.8 570.0,153.8 570.2,152.4 570.2,153.2 570.1,152.8 570.5,151.7 570.3,151.3 571.1,150.5 570.9,149.6 571.6,149.6 571.4,148.8 571.8,147.5 571.6,147.0 571.6,146.8 572.1,145.8 572.7,146.6 572.9,145.8 574.0,147.2 574.3,147.4 574.9,146.1 575.6,146.0 576.3,146.4 575.9,146.5 576.8,146.2 577.0,147.0 577.0,149.0 576.9,148.1 576.7,149.1 576.7,148.6 577.3,147.9 577.4,147.0 577.3,146.3 577.5,146.6 578.2,146.2 578.2,144.7 578.1,145.2 578.7,143.4 578.8,143.4 578.8,142.8 578.7,142.9 578.5,142.2 578.6,142.0 578.9,141.0 579.3,140.8 579.8,140.1 580.2,140.5 580.5,138.8 580.8,139.0 581.0,139.1 581.0,139.1 581.6,138.7 581.9,139.5 582.3,138.9 582.8,138.8 583.0,140.3 583.3,139.9 583.7,141.9 584.2,142.2 584.3,142.9 584.8,143.5 584.9,144.3 584.9,144.5 585.3,144.8 586.1,145.4 586.3,146.4 587.1,147.2 587.9,147.8 588.5,147.9 588.3,147.8 589.1,147.0 589.2,148.3 589.2,149.3 589.4,149.4 589.7,150.4 589.8,151.6 589.9,151.8 590.4,152.7 590.2,153.1 590.1,152.2 590.6,152.7 591.0,153.2 591.4,154.1 591.2,153.0 591.7,152.4 591.9,151.5 592.6,151.3 592.2,151.1 592.4,151.3 592.5,151.1 592.3,150.7 592.7,151.1 593.5,151.5 593.7,151.9 593.9,153.3 594.5,151.7 595.1,152.5 595.6,153.4 595.5,154.7 595.8,154.3 596.4,155.1 596.4,155.2 596.6,154.2 597.2,152.5 598.0,152.2 597.8,151.3 597.3,151.7 597.4,150.8 597.6,151.7 598.1,150.9 598.7,149.6 598.9,148.8 598.9,148.4 599.3,149.6 599.2,151.2 599.5,151.4 599.6,152.4 600.7,152.1 600.9,152.9 600.6,154.9 600.7,153.2 601.2,153.7 601.4,153.9 601.7,152.4 602.0,152.3 602.6,152.7 602.7,154.4 602.8,154.8 602.7,155.4 602.8,156.5 603.3,157.1 603.6,157.7 604.3,157.9 604.4,159.2 605.1,158.9 605.4,160.5 605.6,160.4 605.4,160.1 605.7,161.0 606.7,161.5 607.4,160.5 607.4,161.7 607.6,161.6 607.5,162.1 607.4,163.7 607.3,163.8 607.7,164.9 607.8,165.3 607.8,167.3 607.7,167.4 608.0,167.1 608.1,167.1 607.9,167.5 608.5,168.7 608.5,169.5 608.4,170.9 609.0,171.1 609.7,170.7 609.9,170.5 610.5,170.0 610.2,169.6 610.3,169.4 610.0,169.1 610.9,167.8 610.6,166.1 611.3,165.4 611.3,165.5 611.5,163.7 612.3,164.2 613.1,165.0 613.9,164.9 615.0,164.5 615.1,166.6 615.5,167.8 615.4,167.7 615.8,168.9 616.0,169.8 616.1,169.0 616.4,170.5 616.7,168.7 617.1,167.8 617.5,166.6 617.6,166.4 617.8,165.6 618.4,166.5 618.3,167.9 618.6,168.4 619.5,168.6 619.1,169.9 619.6,168.6 620.6,168.9 620.7,168.1 622.1,167.9 621.8,167.5 623.0,167.5 624.0,167.4 624.6,166.9 624.4,167.3 624.5,168.4 624.2,169.0 624.6,168.9 624.3,169.3 624.4,169.9 624.9,170.8 624.6,171.8 624.7,172.5 624.9,172.8 624.7,173.6 625.4,173.2 626.0,171.5 626.1,172.3 626.8,171.6 627.2,171.6 627.8,171.6 628.6,172.8 629.0,172.3 630.0,173.0 630.3,173.3 631.0,173.2 631.4,173.1 632.0,174.4 631.9,174.3 631.9,174.3 631.7,174.8 632.2,173.8 632.6,173.0 633.2,172.0 633.5,171.3 633.3,170.4 633.2,169.2 633.3,170.2 633.5,168.1 634.2,168.0 634.7,168.0 634.6,167.5 634.7,166.4 635.5,166.0 636.0,165.5 636.3,164.7 637.1,164.7 637.3,164.4 637.7,163.9 637.8,165.1 637.4,165.0 638.0,166.1 637.9,166.4 638.0,167.4 638.1,168.0 638.6,168.8 638.8,168.6 639.0,168.9 638.6,168.2 638.9,168.2 638.8,168.3 639.2,168.3 639.6,167.1 639.7,166.5 640.5,164.8 640.5,163.2 640.7,162.8 640.6,162.5 640.8,161.7 641.5,161.0 642.2,161.9 642.1,161.5 642.9,160.5 643.5,162.4 644.2,162.6 644.7,162.4 644.8,163.0 645.1,162.6 646.3,163.9 646.8,162.7 646.9,162.2 647.7,162.7 648.2,162.7 648.3,164.2 648.4,163.3 648.9,163.4 650.0,164.1 650.3,164.1 650.6,164.1 650.9,163.4 651.3,164.0 650.9,162.4 651.2,161.6 651.3,161.4 651.5,160.6 652.2,160.3 653.0,160.0 653.7,159.7 654.0,159.2 654.6,159.5 656.0,159.1 656.1,160.1 656.3,159.5 657.0,161.8 657.7,163.1 658.3,163.7 658.3,163.4 659.1,163.2 659.3,164.3 659.4,164.5 659.9,165.0 660.5,164.4 661.3,164.7 661.9,163.6 662.4,163.4 663.1,162.0 663.4,161.6 664.0,161.9 663.9,161.3 663.9,160.8 664.7,161.1 664.6,160.4 664.9,160.6 665.3,158.2 665.4,158.4 665.6,158.3 666.4,156.7 665.8,155.7 666.6,156.3 667.7,155.3 667.9,154.8 668.2,155.1 668.7,154.5 669.5,154.5 669.2,153.4 669.6,153.3 669.8,153.5 670.4,153.0 670.7,150.9 671.2,151.3 671.6,151.6 672.1,151.3 672.5,152.6 672.9,151.5 673.4,152.6 673.9,151.5 674.0,152.1 675.1,151.2 675.3,150.6 675.2,151.4 676.0,152.2 676.1,153.0 676.6,154.0 676.8,152.7 677.2,152.5 677.4,152.3 677.5,151.4 677.8,150.1 678.7,149.2 678.1,149.5 678.5,149.4 678.9,148.2 678.8,146.8 678.7,147.5 679.7,145.8 679.7,145.7 680.4,144.8 680.5,143.4 680.6,143.6 680.7,143.2 681.0,143.9 681.5,144.6 681.6,143.2 681.7,142.9 681.9,142.6 682.5,141.1 682.8,139.9 682.7,141.4 683.0,141.2 683.6,141.5 683.9,141.6 684.3,142.0 684.5,142.1 685.0,143.1 685.7,144.3 686.4,144.1 686.6,143.6 687.5,144.4 687.6,144.1 688.6,144.7 688.9,146.3 689.2,147.5 689.3,146.8 688.9,145.4 689.4,145.4 690.0,143.3 691.0,142.8 690.7,143.7 691.7,143.6 691.9,142.1 692.5,140.9 692.2,141.6 692.7,142.3 693.0,142.5 693.5,143.5 693.8,143.7 693.7,143.1 694.4,144.8 694.8,145.0 695.2,145.1 695.7,145.2 696.1,146.5 696.2,146.7 696.0,147.7 696.0,147.0 696.8,147.3 697.3,146.3 697.5,145.3 697.5,143.7 697.8,143.0 698.0,144.5 698.1,147.2 698.2,146.3 699.1,146.1 699.1,147.1 699.0,148.0 698.8,148.1 699.0,148.6 699.9,147.4 700.7,147.5 701.2,148.2 701.6,149.3 701.8,149.3 701.9,149.4 702.7,150.1 703.1,151.2 704.1,151.4 704.0,150.1 704.3,150.0 704.9,150.1 705.2,148.9 705.3,147.8 705.7,148.3 706.5,148.4 707.2,148.7 707.7,148.2 708.5,147.2 709.2,146.6 709.5,145.7 709.9,145.1 709.8,144.6 710.1,144.1 710.3,144.6 710.3,143.2 710.4,142.9 710.3,142.1 710.0,142.7 709.9,142.0 710.4,141.0 710.7,140.9 711.2,140.1 711.1,139.1 711.3,139.5 711.9,139.2 712.4,139.5 712.5,139.2 712.8,138.6 713.3,137.7 713.4,136.2 714.0,136.3 714.7,135.7 714.9,135.6 715.9,135.6 716.0,135.4 716.3,135.3 716.7,136.4 717.0,137.5 717.8,137.0 718.4,137.2 719.4,137.9 720.0,136.9 720.3,137.1 720.5,136.9 720.3,138.5 720.7,139.0 720.9,139.1 721.8,138.4 722.3,139.0 723.3,140.2 723.7,140.3 724.0,140.6 724.2,141.7 724.3,141.4 724.6,142.2 725.0,143.3 724.9,143.3 725.5,143.3 726.6,144.1 726.7,144.5 726.9,144.8 727.1,145.5 727.2,146.0 728.1,145.8 728.5,146.0 729.0,147.0 729.8,147.2 730.5,147.3 730.1,145.7 730.5,145.8 730.7,145.4 730.9,144.4 731.2,144.0 731.4,143.8 732.2,144.1 732.5,142.3 732.7,142.1 733.3,141.3 733.9,141.1 734.4,141.8 734.9,142.0 735.8,141.0 736.3,140.8 736.6,141.1 736.9,140.2 737.4,141.1 737.5,140.6 738.0,140.2 738.4,139.8 738.1,140.4 738.7,139.3 739.3,138.3 739.7,138.8 740.0,138.0 741.1,137.5 741.4,136.6 741.7,137.7 742.0,138.1 742.6,138.7 743.5,139.1 744.2,139.3 744.5,139.1 744.5,139.2 744.8,140.2 745.1,140.8 745.7,142.2 745.9,141.5 746.7,141.3 747.6,140.9 748.2,142.3 748.8,141.8 748.9,142.9 749.0,144.2 749.5,144.1 750.4,144.8 751.1,143.5 751.3,144.1 752.0,143.8 752.1,145.0 752.8,145.9 753.0,146.1 753.0,147.5 753.4,148.2 753.3,148.3 753.4,148.6 753.4,148.3 754.0,149.2 754.5,151.3 754.8,151.1 755.1,151.8 756.1,151.6 756.4,152.5 756.7,152.8 757.6,152.8 758.4,152.0 758.7,152.5"/>
<polyline stroke="#33475B" stroke-width="1.05" stroke-dasharray="1.6 1.7" points="114.5,511.4 116.5,505.5 118.5,499.9 120.5,494.4 122.5,489.2 124.5,484.2 126.5,479.4 128.5,474.8 130.5,470.3 132.5,466.0 134.5,461.8 136.5,457.7 138.5,453.8 140.5,450.0 142.5,446.3 144.5,442.7 146.5,439.2 148.5,435.8 150.5,432.4 152.5,429.2 154.5,426.0 156.5,422.9 158.5,419.9 160.5,417.0 162.5,414.1 164.5,411.3 166.5,408.5 168.5,405.8 170.5,403.2 172.5,400.6 174.5,398.0 176.5,395.6 178.5,393.1 180.5,390.7 182.5,388.4 184.5,386.0 186.5,383.8 188.5,381.5 190.5,379.4 192.5,377.2 194.5,375.1 196.5,373.0 198.5,370.9 200.5,368.9 202.5,366.9 204.5,365.0 206.5,363.0 208.5,361.1 210.5,359.2 212.5,357.4 214.5,355.6 216.5,353.8 218.5,352.0 220.5,350.3 222.5,348.5 224.5,346.8 226.5,345.1 228.5,343.5 230.5,341.8 232.5,340.2 234.5,338.6 236.5,337.1 238.5,335.5 240.5,334.0 242.5,332.4 244.5,330.9 246.5,329.4 248.5,328.0 250.5,326.5 252.5,325.1 254.5,323.7 256.5,322.3 258.5,320.9 260.5,319.5 262.5,318.1 264.5,316.8 266.5,315.4 268.5,314.1 270.5,312.8 272.5,311.5 274.5,310.3 276.5,309.0 278.5,307.7 280.5,306.5 282.5,305.3 284.5,304.0 286.5,302.8 288.5,301.6 290.5,300.4 292.5,299.3 294.5,298.1 296.5,296.9 298.5,295.8 300.5,294.7 302.5,293.5 304.5,292.4 306.5,291.3 308.5,290.2 310.5,289.1 312.5,288.1 314.5,287.0 316.5,285.9 318.5,284.9 320.5,283.8 322.5,282.8 324.5,281.8 326.5,280.8 328.5,279.8 330.5,278.8 332.5,277.8 334.5,276.8 336.5,275.8 338.5,274.8 340.5,273.9 342.5,272.9 344.5,272.0 346.5,271.0 348.5,270.1 350.5,269.1 352.5,268.2 354.5,267.3 356.5,266.4 358.5,265.5 360.5,264.6 362.5,263.7 364.5,262.8 366.5,261.9 368.5,261.1 370.5,260.2 372.5,259.3 374.5,258.5 376.5,257.6 378.5,256.8 380.5,255.9 382.5,255.1 384.5,254.3 386.5,253.5 388.5,252.6 390.5,251.8 392.5,251.0 394.5,250.2 396.5,249.4 398.5,248.6 400.5,247.8 402.5,247.1 404.5,246.3 406.5,245.5 408.5,244.7 410.5,244.0 412.5,243.2 414.5,242.5 416.5,241.7 418.5,241.0 420.5,240.2 422.5,239.5 424.5,238.7 426.5,238.0 428.5,237.3 430.5,236.6 432.5,235.8 434.5,235.1 436.5,234.4 438.5,233.7 440.5,233.0 442.5,232.3 444.5,231.6 446.5,230.9 448.5,230.2 450.5,229.6 452.5,228.9 454.5,228.2 456.5,227.5 458.5,226.9 460.5,226.2 462.5,225.5 464.5,224.9 466.5,224.2 468.5,223.6 470.5,222.9 472.5,222.3 474.5,221.6 476.5,221.0 478.5,220.4 480.5,219.7 482.5,219.1 484.5,218.5 486.5,217.8 488.5,217.2 490.5,216.6 492.5,216.0 494.5,215.4 496.5,214.8 498.5,214.2 500.5,213.6 502.5,213.0 504.5,212.4 506.5,211.8 508.5,211.2 510.5,210.6 512.5,210.0 514.5,209.4 516.5,208.8 518.5,208.2 520.5,207.7 522.5,207.1 524.5,206.5 526.5,206.0 528.5,205.4 530.5,204.8 532.5,204.3 534.5,203.7 536.5,203.1 538.5,202.6 540.5,202.0 542.5,201.5 544.5,200.9 546.5,200.4 548.5,199.9 550.5,199.3 552.5,198.8 554.5,198.2 556.5,197.7 558.5,197.2 560.5,196.6 562.5,196.1 564.5,195.6 566.5,195.1 568.5,194.5 570.5,194.0 572.5,193.5 574.5,193.0 576.5,192.5 578.5,192.0 580.5,191.5 582.5,191.0 584.5,190.5 586.5,190.0 588.5,189.4 590.5,189.0 592.5,188.5 594.5,188.0 596.5,187.5 598.5,187.0 600.5,186.5 602.5,186.0 604.5,185.5 606.5,185.0 608.5,184.5 610.5,184.1 612.5,183.6 614.5,183.1 616.5,182.6 618.5,182.2 620.5,181.7 622.5,181.2 624.5,180.8 626.5,180.3 628.5,179.8 630.5,179.4 632.5,178.9 634.5,178.4 636.5,178.0 638.5,177.5 640.5,177.1 642.5,176.6 644.5,176.2 646.5,175.7 648.5,175.3 650.5,174.8 652.5,174.4 654.5,173.9 656.5,173.5 658.5,173.0 660.5,172.6 662.5,172.2 664.5,171.7 666.5,171.3 668.5,170.9 670.5,170.4 672.5,170.0 674.5,169.6 676.5,169.1 678.5,168.7 680.5,168.3 682.5,167.9 684.5,167.5 686.5,167.0 688.5,166.6 690.5,166.2 692.5,165.8 694.5,165.4 696.5,164.9 698.5,164.5 700.5,164.1 702.5,163.7 704.5,163.3 706.5,162.9 708.5,162.5 710.5,162.1 712.5,161.7 714.5,161.3 716.5,160.9 718.5,160.5 720.5,160.1 722.5,159.7 724.5,159.3 726.5,158.9 728.5,158.5 730.5,158.1 732.5,157.7 734.5,157.3 736.5,156.9 738.5,156.5 740.5,156.2 742.5,155.8 744.5,155.4 746.5,155.0 748.5,154.6 750.5,154.2 752.5,153.9 754.5,153.5 756.5,153.1 758.5,152.7 760.5,152.4 762.5,152.0 764.5,151.6 766.5,151.2 768.5,150.9 770.5,150.5 772.5,150.1 774.5,149.8 776.5,149.4 778.5,149.0 780.5,148.7 782.5,148.3 784.5,147.9 786.5,147.6 788.5,147.2 790.5,146.9 792.5,146.5 794.5,146.1 796.5,145.8 798.5,145.4 800.5,145.1 802.5,144.7"/>
<polyline stroke="#6BA6E4" stroke-width="1.05" stroke-dasharray="1.6 1.7" points="114.5,509.4 116.5,503.3 118.5,497.4 120.5,491.8 122.5,486.5 124.5,481.3 126.5,476.4 128.5,471.6 130.5,467.0 132.5,462.5 134.5,458.2 136.5,454.1 138.5,450.0 140.5,446.1 142.5,442.3 144.5,438.6 146.5,435.0 148.5,431.5 150.5,428.1 152.5,424.8 154.5,421.6 156.5,418.4 158.5,415.4 160.5,412.3 162.5,409.4 164.5,406.5 166.5,403.7 168.5,401.0 170.5,398.3 172.5,395.6 174.5,393.0 176.5,390.5 178.5,388.0 180.5,385.6 182.5,383.2 184.5,380.8 186.5,378.5 188.5,376.2 190.5,374.0 192.5,371.8 194.5,369.6 196.5,367.5 198.5,365.4 200.5,363.3 202.5,361.3 204.5,359.3 206.5,357.4 208.5,355.4 210.5,353.5 212.5,351.6 214.5,349.8 216.5,348.0 218.5,346.2 220.5,344.4 222.5,342.6 224.5,340.9 226.5,339.2 228.5,337.5 230.5,335.8 232.5,334.2 234.5,332.6 236.5,331.0 238.5,329.4 240.5,327.8 242.5,326.3 244.5,324.8 246.5,323.2 248.5,321.8 250.5,320.3 252.5,318.8 254.5,317.4 256.5,316.0 258.5,314.5 260.5,313.1 262.5,311.8 264.5,310.4 266.5,309.0 268.5,307.7 270.5,306.4 272.5,305.1 274.5,303.8 276.5,302.5 278.5,301.2 280.5,300.0 282.5,298.7 284.5,297.5 286.5,296.2 288.5,295.0 290.5,293.8 292.5,292.6 294.5,291.5 296.5,290.3 298.5,289.1 300.5,288.0 302.5,286.8 304.5,285.7 306.5,284.6 308.5,283.5 310.5,282.4 312.5,281.3 314.5,280.2 316.5,279.1 318.5,278.1 320.5,277.0 322.5,276.0 324.5,274.9 326.5,273.9 328.5,272.9 330.5,271.8 332.5,270.8 334.5,269.8 336.5,268.8 338.5,267.9 340.5,266.9 342.5,265.9 344.5,265.0 346.5,264.0 348.5,263.1 350.5,262.1 352.5,261.2 354.5,260.2 356.5,259.3 358.5,258.4 360.5,257.5 362.5,256.6 364.5,255.7 366.5,254.8 368.5,253.9 370.5,253.1 372.5,252.2 374.5,251.3 376.5,250.5 378.5,249.6 380.5,248.7 382.5,247.9 384.5,247.1 386.5,246.2 388.5,245.4 390.5,244.6 392.5,243.8 394.5,243.0 396.5,242.1 398.5,241.3 400.5,240.5 402.5,239.8 404.5,239.0 406.5,238.2 408.5,237.4 410.5,236.6 412.5,235.9 414.5,235.1 416.5,234.3 418.5,233.6 420.5,232.8 422.5,232.1 424.5,231.3 426.5,230.6 428.5,229.9 430.5,229.1 432.5,228.4 434.5,227.7 436.5,227.0 438.5,226.3 440.5,225.5 442.5,224.8 444.5,224.1 446.5,223.4 448.5,222.7 450.5,222.0 452.5,221.4 454.5,220.7 456.5,220.0 458.5,219.3 460.5,218.6 462.5,218.0 464.5,217.3 466.5,216.6 468.5,216.0 470.5,215.3 472.5,214.7 474.5,214.0 476.5,213.4 478.5,212.7 480.5,212.1 482.5,211.5 484.5,210.8 486.5,210.2 488.5,209.6 490.5,208.9 492.5,208.3 494.5,207.7 496.5,207.1 498.5,206.5 500.5,205.9 502.5,205.2 504.5,204.6 506.5,204.0 508.5,203.4 510.5,202.8 512.5,202.2 514.5,201.7 516.5,201.1 518.5,200.5 520.5,199.9 522.5,199.3 524.5,198.7 526.5,198.2 528.5,197.6 530.5,197.0 532.5,196.5 534.5,195.9 536.5,195.3 538.5,194.8 540.5,194.2 542.5,193.7 544.5,193.1 546.5,192.5 548.5,192.0 550.5,191.5 552.5,190.9 554.5,190.4 556.5,189.8 558.5,189.3 560.5,188.8 562.5,188.2 564.5,187.7 566.5,187.2 568.5,186.6 570.5,186.1 572.5,185.6 574.5,185.1 576.5,184.5 578.5,184.0 580.5,183.5 582.5,183.0 584.5,182.5 586.5,182.0 588.5,181.5 590.5,181.0 592.5,180.5 594.5,180.0 596.5,179.5 598.5,179.0 600.5,178.5 602.5,178.0 604.5,177.5 606.5,177.0 608.5,176.5 610.5,176.0 612.5,175.6 614.5,175.1 616.5,174.6 618.5,174.1 620.5,173.6 622.5,173.2 624.5,172.7 626.5,172.2 628.5,171.8 630.5,171.3 632.5,170.8 634.5,170.4 636.5,169.9 638.5,169.4 640.5,169.0 642.5,168.5 644.5,168.1 646.5,167.6 648.5,167.1 650.5,166.7 652.5,166.2 654.5,165.8 656.5,165.4 658.5,164.9 660.5,164.5 662.5,164.0 664.5,163.6 666.5,163.1 668.5,162.7 670.5,162.3 672.5,161.8 674.5,161.4 676.5,161.0 678.5,160.5 680.5,160.1 682.5,159.7 684.5,159.2 686.5,158.8 688.5,158.4 690.5,158.0 692.5,157.6 694.5,157.1 696.5,156.7 698.5,156.3 700.5,155.9 702.5,155.5 704.5,155.1 706.5,154.6 708.5,154.2 710.5,153.8 712.5,153.4 714.5,153.0 716.5,152.6 718.5,152.2 720.5,151.8 722.5,151.4 724.5,151.0 726.5,150.6 728.5,150.2 730.5,149.8 732.5,149.4 734.5,149.0 736.5,148.6 738.5,148.2 740.5,147.8 742.5,147.4 744.5,147.1 746.5,146.7 748.5,146.3 750.5,145.9 752.5,145.5 754.5,145.1 756.5,144.8 758.5,144.4 760.5,144.0 762.5,143.6 764.5,143.2 766.5,142.9 768.5,142.5 770.5,142.1 772.5,141.7 774.5,141.4 776.5,141.0 778.5,140.6 780.5,140.3 782.5,139.9 784.5,139.5 786.5,139.2 788.5,138.8 790.5,138.4 792.5,138.1 794.5,137.7 796.5,137.4 798.5,137.0 800.5,136.6 802.5,136.3"/>
<polyline stroke="#2DBE6C" stroke-width="1.05" stroke-dasharray="2.6 2.0" points="102.5,509.3 104.5,501.5 106.5,494.2 108.5,487.3 110.5,480.7 112.5,474.5 114.5,468.6 116.5,463.0 118.5,457.6 120.5,452.5 122.5,447.5 124.5,442.8 126.5,438.2 128.5,433.8 130.5,429.6 132.5,425.5 134.5,421.5 136.5,417.7 138.5,414.0 140.5,410.4 142.5,406.9 144.5,403.5 146.5,400.2 148.5,396.9 150.5,393.8 152.5,390.7 154.5,387.8 156.5,384.9 158.5,382.0 160.5,379.2 162.5,376.5 164.5,373.9 166.5,371.3 168.5,368.7 170.5,366.2 172.5,363.8 174.5,361.4 176.5,359.1 178.5,356.8 180.5,354.5 182.5,352.3 184.5,350.1 186.5,348.0 188.5,345.9 190.5,343.8 192.5,341.8 194.5,339.8 196.5,337.8 198.5,335.9 200.5,334.0 202.5,332.1 204.5,330.3 206.5,328.5 208.5,326.7 210.5,324.9 212.5,323.2 214.5,321.5 216.5,319.8 218.5,318.1 220.5,316.5 222.5,314.8 224.5,313.2 226.5,311.7 228.5,310.1 230.5,308.6 232.5,307.1 234.5,305.6 236.5,304.1 238.5,302.6 240.5,301.2 242.5,299.7 244.5,298.3 246.5,296.9 248.5,295.6 250.5,294.2 252.5,292.8 254.5,291.5 256.5,290.2 258.5,288.9 260.5,287.6 262.5,286.3 264.5,285.0 266.5,283.8 268.5,282.6 270.5,281.3 272.5,280.1 274.5,278.9 276.5,277.7 278.5,276.6 280.5,275.4 282.5,274.2 284.5,273.1 286.5,272.0 288.5,270.8 290.5,269.7 292.5,268.6 294.5,267.5 296.5,266.4 298.5,265.4 300.5,264.3 302.5,263.3 304.5,262.2 306.5,261.2 308.5,260.1 310.5,259.1 312.5,258.1 314.5,257.1 316.5,256.1 318.5,255.1 320.5,254.2 322.5,253.2 324.5,252.2 326.5,251.3 328.5,250.3 330.5,249.4 332.5,248.5 334.5,247.5 336.5,246.6 338.5,245.7 340.5,244.8 342.5,243.9 344.5,243.0 346.5,242.1 348.5,241.3 350.5,240.4 352.5,239.5 354.5,238.7 356.5,237.8 358.5,237.0 360.5,236.1 362.5,235.3 364.5,234.5 366.5,233.6 368.5,232.8 370.5,232.0 372.5,231.2 374.5,230.4 376.5,229.6 378.5,228.8 380.5,228.0 382.5,227.2 384.5,226.5 386.5,225.7 388.5,224.9 390.5,224.2 392.5,223.4 394.5,222.7 396.5,221.9 398.5,221.2 400.5,220.4 402.5,219.7 404.5,219.0 406.5,218.2 408.5,217.5 410.5,216.8 412.5,216.1 414.5,215.4 416.5,214.7 418.5,214.0 420.5,213.3 422.5,212.6 424.5,211.9 426.5,211.2 428.5,210.5 430.5,209.9 432.5,209.2 434.5,208.5 436.5,207.9 438.5,207.2 440.5,206.5 442.5,205.9 444.5,205.2 446.5,204.6 448.5,204.0 450.5,203.3 452.5,202.7 454.5,202.0 456.5,201.4 458.5,200.8 460.5,200.2 462.5,199.5 464.5,198.9 466.5,198.3 468.5,197.7 470.5,197.1 472.5,196.5 474.5,195.9 476.5,195.3 478.5,194.7 480.5,194.1 482.5,193.5 484.5,192.9 486.5,192.3 488.5,191.8 490.5,191.2 492.5,190.6 494.5,190.0 496.5,189.5 498.5,188.9 500.5,188.3 502.5,187.8 504.5,187.2 506.5,186.6 508.5,186.1 510.5,185.5 512.5,185.0 514.5,184.4 516.5,183.9 518.5,183.4 520.5,182.8 522.5,182.3 524.5,181.7 526.5,181.2 528.5,180.7 530.5,180.1 532.5,179.6 534.5,179.1 536.5,178.6 538.5,178.1 540.5,177.5 542.5,177.0 544.5,176.5 546.5,176.0 548.5,175.5 550.5,175.0 552.5,174.5 554.5,174.0 556.5,173.5 558.5,173.0 560.5,172.5 562.5,172.0 564.5,171.5 566.5,171.0 568.5,170.5 570.5,170.0 572.5,169.6 574.5,169.1 576.5,168.6 578.5,168.1 580.5,167.6 582.5,167.2 584.5,166.7 586.5,166.2 588.5,165.8 590.5,165.3 592.5,164.8 594.5,164.4 596.5,163.9 598.5,163.4 600.5,163.0 602.5,162.5 604.5,162.1 606.5,161.6 608.5,161.2 610.5,160.7 612.5,160.3 614.5,159.8 616.5,159.4 618.5,158.9 620.5,158.5 622.5,158.1 624.5,157.6 626.5,157.2 628.5,156.8 630.5,156.3 632.5,155.9 634.5,155.5 636.5,155.0 638.5,154.6 640.5,154.2 642.5,153.8 644.5,153.3 646.5,152.9 648.5,152.5 650.5,152.1 652.5,151.7 654.5,151.2 656.5,150.8 658.5,150.4 660.5,150.0 662.5,149.6 664.5,149.2 666.5,148.8 668.5,148.4 670.5,148.0 672.5,147.6 674.5,147.2 676.5,146.8 678.5,146.4 680.5,146.0 682.5,145.6 684.5,145.2 686.5,144.8 688.5,144.4 690.5,144.0 692.5,143.6 694.5,143.2 696.5,142.8 698.5,142.5 700.5,142.1 702.5,141.7 704.5,141.3 706.5,140.9 708.5,140.5 710.5,140.2 712.5,139.8 714.5,139.4 716.5,139.0 718.5,138.7 720.5,138.3 722.5,137.9 724.5,137.5 726.5,137.2 728.5,136.8 730.5,136.4 732.5,136.1 734.5,135.7 736.5,135.3 738.5,135.0 740.5,134.6 742.5,134.3 744.5,133.9 746.5,133.5 748.5,133.2 750.5,132.8 752.5,132.5 754.5,132.1 756.5,131.8 758.5,131.4 760.5,131.1 762.5,130.7 764.5,130.4 766.5,130.0 768.5,129.7 770.5,129.3 772.5,129.0 774.5,128.6 776.5,128.3 778.5,127.9 780.5,127.6 782.5,127.3 784.5,126.9 786.5,126.6 788.5,126.2 790.5,125.9 792.5,125.6 794.5,125.2 796.5,124.9 798.5,124.6 800.5,124.2 802.5,123.9"/>
<polyline stroke="#FFC83D" stroke-width="1.05" stroke-dasharray="1.6 1.7" points="102.5,462.0 104.5,455.0 106.5,448.5 108.5,442.3 110.5,436.4 112.5,430.8 114.5,425.5 116.5,420.5 118.5,415.6 120.5,411.0 122.5,406.5 124.5,402.2 126.5,398.1 128.5,394.1 130.5,390.3 132.5,386.6 134.5,383.0 136.5,379.5 138.5,376.2 140.5,372.9 142.5,369.7 144.5,366.6 146.5,363.6 148.5,360.7 150.5,357.8 152.5,355.1 154.5,352.3 156.5,349.7 158.5,347.1 160.5,344.6 162.5,342.1 164.5,339.7 166.5,337.3 168.5,335.0 170.5,332.8 172.5,330.5 174.5,328.4 176.5,326.2 178.5,324.1 180.5,322.1 182.5,320.0 184.5,318.1 186.5,316.1 188.5,314.2 190.5,312.3 192.5,310.5 194.5,308.6 196.5,306.8 198.5,305.1 200.5,303.3 202.5,301.6 204.5,300.0 206.5,298.3 208.5,296.7 210.5,295.0 212.5,293.5 214.5,291.9 216.5,290.4 218.5,288.8 220.5,287.3 222.5,285.9 224.5,284.4 226.5,282.9 228.5,281.5 230.5,280.1 232.5,278.7 234.5,277.4 236.5,276.0 238.5,274.7 240.5,273.3 242.5,272.0 244.5,270.7 246.5,269.5 248.5,268.2 250.5,267.0 252.5,265.7 254.5,264.5 256.5,263.3 258.5,262.1 260.5,260.9 262.5,259.8 264.5,258.6 266.5,257.5 268.5,256.3 270.5,255.2 272.5,254.1 274.5,253.0 276.5,251.9 278.5,250.8 280.5,249.8 282.5,248.7 284.5,247.7 286.5,246.6 288.5,245.6 290.5,244.6 292.5,243.6 294.5,242.6 296.5,241.6 298.5,240.6 300.5,239.6 302.5,238.6 304.5,237.7 306.5,236.7 308.5,235.8 310.5,234.9 312.5,233.9 314.5,233.0 316.5,232.1 318.5,231.2 320.5,230.3 322.5,229.4 324.5,228.5 326.5,227.7 328.5,226.8 330.5,225.9 332.5,225.1 334.5,224.2 336.5,223.4 338.5,222.6 340.5,221.7 342.5,220.9 344.5,220.1 346.5,219.3 348.5,218.5 350.5,217.7 352.5,216.9 354.5,216.1 356.5,215.3 358.5,214.6 360.5,213.8 362.5,213.0 364.5,212.3 366.5,211.5 368.5,210.7 370.5,210.0 372.5,209.3 374.5,208.5 376.5,207.8 378.5,207.1 380.5,206.4 382.5,205.6 384.5,204.9 386.5,204.2 388.5,203.5 390.5,202.8 392.5,202.1 394.5,201.4 396.5,200.7 398.5,200.1 400.5,199.4 402.5,198.7 404.5,198.0 406.5,197.4 408.5,196.7 410.5,196.1 412.5,195.4 414.5,194.8 416.5,194.1 418.5,193.5 420.5,192.8 422.5,192.2 424.5,191.6 426.5,190.9 428.5,190.3 430.5,189.7 432.5,189.1 434.5,188.5 436.5,187.9 438.5,187.3 440.5,186.7 442.5,186.1 444.5,185.5 446.5,184.9 448.5,184.3 450.5,183.7 452.5,183.1 454.5,182.5 456.5,181.9 458.5,181.4 460.5,180.8 462.5,180.2 464.5,179.7 466.5,179.1 468.5,178.5 470.5,178.0 472.5,177.4 474.5,176.9 476.5,176.3 478.5,175.8 480.5,175.2 482.5,174.7 484.5,174.2 486.5,173.6 488.5,173.1 490.5,172.6 492.5,172.0 494.5,171.5 496.5,171.0 498.5,170.5 500.5,169.9 502.5,169.4 504.5,168.9 506.5,168.4 508.5,167.9 510.5,167.4 512.5,166.9 514.5,166.4 516.5,165.9 518.5,165.4 520.5,164.9 522.5,164.4 524.5,163.9 526.5,163.4 528.5,162.9 530.5,162.4 532.5,162.0 534.5,161.5 536.5,161.0 538.5,160.5 540.5,160.0 542.5,159.6 544.5,159.1 546.5,158.6 548.5,158.2 550.5,157.7 552.5,157.2 554.5,156.8 556.5,156.3 558.5,155.9 560.5,155.4 562.5,155.0 564.5,154.5 566.5,154.1 568.5,153.6 570.5,153.2 572.5,152.7 574.5,152.3 576.5,151.8 578.5,151.4 580.5,151.0 582.5,150.5 584.5,150.1 586.5,149.7 588.5,149.2 590.5,148.8 592.5,148.4 594.5,148.0 596.5,147.5 598.5,147.1 600.5,146.7 602.5,146.3 604.5,145.8 606.5,145.4 608.5,145.0 610.5,144.6 612.5,144.2 614.5,143.8 616.5,143.4 618.5,143.0 620.5,142.6 622.5,142.2 624.5,141.8 626.5,141.4 628.5,141.0 630.5,140.6 632.5,140.2 634.5,139.8 636.5,139.4 638.5,139.0 640.5,138.6 642.5,138.2 644.5,137.8 646.5,137.4 648.5,137.0 650.5,136.7 652.5,136.3 654.5,135.9 656.5,135.5 658.5,135.1 660.5,134.8 662.5,134.4 664.5,134.0 666.5,133.6 668.5,133.3 670.5,132.9 672.5,132.5 674.5,132.2 676.5,131.8 678.5,131.4 680.5,131.1 682.5,130.7 684.5,130.3 686.5,130.0 688.5,129.6 690.5,129.3 692.5,128.9 694.5,128.5 696.5,128.2 698.5,127.8 700.5,127.5 702.5,127.1 704.5,126.8 706.5,126.4 708.5,126.1 710.5,125.7 712.5,125.4 714.5,125.0 716.5,124.7 718.5,124.3 720.5,124.0 722.5,123.7 724.5,123.3 726.5,123.0 728.5,122.6 730.5,122.3 732.5,122.0 734.5,121.6 736.5,121.3 738.5,121.0 740.5,120.6 742.5,120.3 744.5,120.0 746.5,119.6 748.5,119.3 750.5,119.0 752.5,118.7 754.5,118.3 756.5,118.0 758.5,117.7 760.5,117.4 762.5,117.0 764.5,116.7 766.5,116.4 768.5,116.1 770.5,115.8 772.5,115.4 774.5,115.1 776.5,114.8 778.5,114.5 780.5,114.2 782.5,113.9 784.5,113.6 786.5,113.3 788.5,112.9 790.5,112.6 792.5,112.3 794.5,112.0 796.5,111.7 798.5,111.4 800.5,111.1 802.5,110.8"/>
<polyline stroke="#FF3B3B" stroke-width="1.05" stroke-dasharray="1.6 1.7" points="102.5,418.6 104.5,412.4 106.5,406.5 108.5,400.9 110.5,395.7 112.5,390.7 114.5,385.9 116.5,381.3 118.5,376.9 120.5,372.8 122.5,368.7 124.5,364.9 126.5,361.1 128.5,357.5 130.5,354.0 132.5,350.7 134.5,347.4 136.5,344.3 138.5,341.2 140.5,338.2 142.5,335.3 144.5,332.5 146.5,329.8 148.5,327.1 150.5,324.5 152.5,322.0 154.5,319.5 156.5,317.1 158.5,314.8 160.5,312.5 162.5,310.2 164.5,308.0 166.5,305.8 168.5,303.7 170.5,301.7 172.5,299.6 174.5,297.6 176.5,295.7 178.5,293.8 180.5,291.9 182.5,290.0 184.5,288.2 186.5,286.4 188.5,284.7 190.5,283.0 192.5,281.3 194.5,279.6 196.5,278.0 198.5,276.3 200.5,274.8 202.5,273.2 204.5,271.6 206.5,270.1 208.5,268.6 210.5,267.2 212.5,265.7 214.5,264.3 216.5,262.9 218.5,261.5 220.5,260.1 222.5,258.7 224.5,257.4 226.5,256.1 228.5,254.8 230.5,253.5 232.5,252.2 234.5,250.9 236.5,249.7 238.5,248.5 240.5,247.3 242.5,246.1 244.5,244.9 246.5,243.7 248.5,242.5 250.5,241.4 252.5,240.3 254.5,239.1 256.5,238.0 258.5,236.9 260.5,235.9 262.5,234.8 264.5,233.7 266.5,232.7 268.5,231.6 270.5,230.6 272.5,229.6 274.5,228.6 276.5,227.6 278.5,226.6 280.5,225.6 282.5,224.6 284.5,223.7 286.5,222.7 288.5,221.8 290.5,220.8 292.5,219.9 294.5,219.0 296.5,218.1 298.5,217.2 300.5,216.3 302.5,215.4 304.5,214.5 306.5,213.6 308.5,212.8 310.5,211.9 312.5,211.1 314.5,210.2 316.5,209.4 318.5,208.6 320.5,207.7 322.5,206.9 324.5,206.1 326.5,205.3 328.5,204.5 330.5,203.7 332.5,202.9 334.5,202.1 336.5,201.4 338.5,200.6 340.5,199.8 342.5,199.1 344.5,198.3 346.5,197.6 348.5,196.8 350.5,196.1 352.5,195.4 354.5,194.7 356.5,193.9 358.5,193.2 360.5,192.5 362.5,191.8 364.5,191.1 366.5,190.4 368.5,189.7 370.5,189.0 372.5,188.4 374.5,187.7 376.5,187.0 378.5,186.3 380.5,185.7 382.5,185.0 384.5,184.4 386.5,183.7 388.5,183.1 390.5,182.4 392.5,181.8 394.5,181.2 396.5,180.5 398.5,179.9 400.5,179.3 402.5,178.7 404.5,178.0 406.5,177.4 408.5,176.8 410.5,176.2 412.5,175.6 414.5,175.0 416.5,174.4 418.5,173.8 420.5,173.2 422.5,172.7 424.5,172.1 426.5,171.5 428.5,170.9 430.5,170.4 432.5,169.8 434.5,169.2 436.5,168.7 438.5,168.1 440.5,167.6 442.5,167.0 444.5,166.5 446.5,165.9 448.5,165.4 450.5,164.8 452.5,164.3 454.5,163.7 456.5,163.2 458.5,162.7 460.5,162.2 462.5,161.6 464.5,161.1 466.5,160.6 468.5,160.1 470.5,159.6 472.5,159.1 474.5,158.5 476.5,158.0 478.5,157.5 480.5,157.0 482.5,156.5 484.5,156.0 486.5,155.5 488.5,155.1 490.5,154.6 492.5,154.1 494.5,153.6 496.5,153.1 498.5,152.6 500.5,152.2 502.5,151.7 504.5,151.2 506.5,150.7 508.5,150.3 510.5,149.8 512.5,149.3 514.5,148.9 516.5,148.4 518.5,148.0 520.5,147.5 522.5,147.0 524.5,146.6 526.5,146.1 528.5,145.7 530.5,145.2 532.5,144.8 534.5,144.4 536.5,143.9 538.5,143.5 540.5,143.0 542.5,142.6 544.5,142.2 546.5,141.7 548.5,141.3 550.5,140.9 552.5,140.5 554.5,140.0 556.5,139.6 558.5,139.2 560.5,138.8 562.5,138.4 564.5,137.9 566.5,137.5 568.5,137.1 570.5,136.7 572.5,136.3 574.5,135.9 576.5,135.5 578.5,135.1 580.5,134.7 582.5,134.3 584.5,133.9 586.5,133.5 588.5,133.1 590.5,132.7 592.5,132.3 594.5,131.9 596.5,131.5 598.5,131.1 600.5,130.7 602.5,130.3 604.5,130.0 606.5,129.6 608.5,129.2 610.5,128.8 612.5,128.4 614.5,128.1 616.5,127.7 618.5,127.3 620.5,126.9 622.5,126.6 624.5,126.2 626.5,125.8 628.5,125.5 630.5,125.1 632.5,124.7 634.5,124.4 636.5,124.0 638.5,123.6 640.5,123.3 642.5,122.9 644.5,122.6 646.5,122.2 648.5,121.8 650.5,121.5 652.5,121.1 654.5,120.8 656.5,120.4 658.5,120.1 660.5,119.7 662.5,119.4 664.5,119.1 666.5,118.7 668.5,118.4 670.5,118.0 672.5,117.7 674.5,117.3 676.5,117.0 678.5,116.7 680.5,116.3 682.5,116.0 684.5,115.7 686.5,115.3 688.5,115.0 690.5,114.7 692.5,114.3 694.5,114.0 696.5,113.7 698.5,113.3 700.5,113.0 702.5,112.7 704.5,112.4 706.5,112.1 708.5,111.7 710.5,111.4 712.5,111.1 714.5,110.8 716.5,110.5 718.5,110.1 720.5,109.8 722.5,109.5 724.5,109.2 726.5,108.9 728.5,108.6 730.5,108.3 732.5,107.9 734.5,107.6 736.5,107.3 738.5,107.0 740.5,106.7 742.5,106.4 744.5,106.1 746.5,105.8 748.5,105.5 750.5,105.2 752.5,104.9 754.5,104.6 756.5,104.3 758.5,104.0 760.5,103.7 762.5,103.4 764.5,103.1 766.5,102.8 768.5,102.5 770.5,102.2 772.5,101.9 774.5,101.6 776.5,101.4 778.5,101.1 780.5,100.8 782.5,100.5 784.5,100.2 786.5,99.9 788.5,99.6 790.5,99.3 792.5,99.1 794.5,98.8 796.5,98.5 798.5,98.2 800.5,97.9 802.5,97.6"/>
</g>
<rect x="687" y="357" width="116" height="126" fill="#fff"/>
<line x1="696.8" y1="369.6" x2="725.2" y2="369.6" stroke="#0E527A" stroke-width="2.2" stroke-linecap="round"/>
<text x="728.5" y="373.2" font-size="10" fill="#595959" stroke="#595959" stroke-width="0.15" textLength="41.5" lengthAdjust="spacingAndGlyphs">BTC/gold</text>
<line x1="696" y1="389.6" x2="726" y2="389.6" stroke="#33475B" stroke-width="1.05" stroke-dasharray="2.3 1.7" stroke-opacity="0.8"/>
<text x="728.5" y="393.2" font-size="10" fill="#595959" stroke="#595959" stroke-width="0.15">1st</text>
<line x1="696" y1="409.6" x2="726" y2="409.6" stroke="#6BA6E4" stroke-width="1.05" stroke-dasharray="2.2 1.8" stroke-opacity="0.8"/>
<text x="728.5" y="413.2" font-size="10" fill="#595959" stroke="#595959" stroke-width="0.15">5th</text>
<line x1="696" y1="429.5" x2="726" y2="429.5" stroke="#2DBE6C" stroke-width="1.05" stroke-dasharray="3.6 2.4" stroke-opacity="0.8"/>
<text x="728.5" y="433.1" font-size="10" fill="#595959" stroke="#595959" stroke-width="0.15" textLength="70" lengthAdjust="spacingAndGlyphs">trend BTC/Gold</text>
<line x1="696" y1="449.5" x2="726" y2="449.5" stroke="#FFC83D" stroke-width="1.05" stroke-dasharray="2.2 1.8" stroke-opacity="0.8"/>
<text x="728.5" y="453.1" font-size="10" fill="#595959" stroke="#595959" stroke-width="0.15">85th</text>
<line x1="696" y1="469.5" x2="726" y2="469.5" stroke="#FF3B3B" stroke-width="1.05" stroke-dasharray="2.2 1.8" stroke-opacity="0.8"/>
<text x="728.5" y="473.1" font-size="10" fill="#595959" stroke="#595959" stroke-width="0.15">99th</text>
</svg></body></html>
